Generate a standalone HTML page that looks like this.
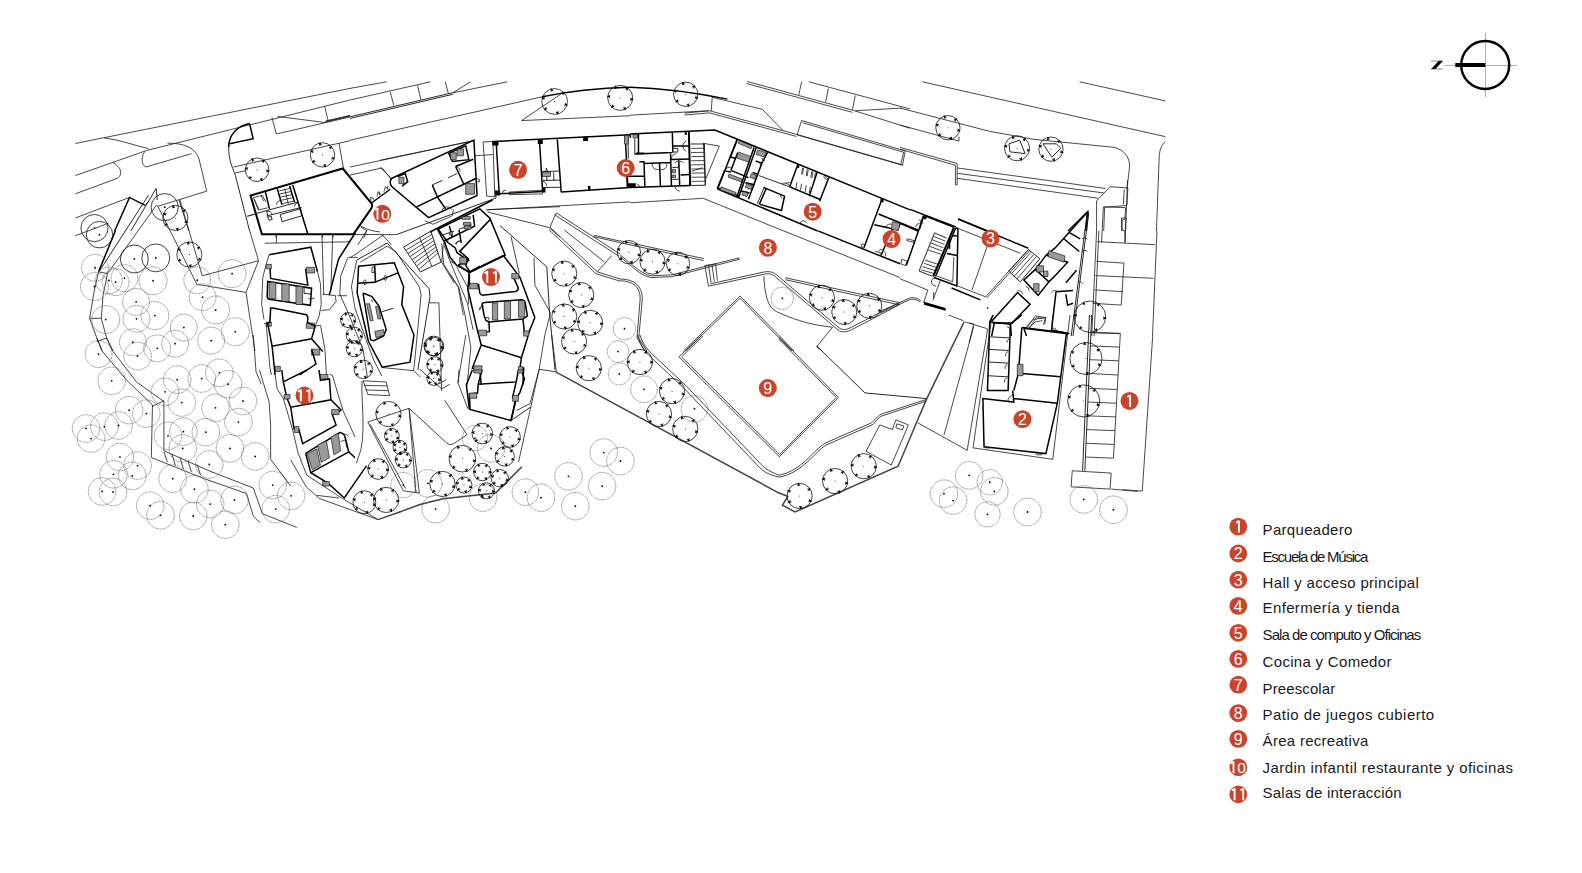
<!DOCTYPE html>
<html><head><meta charset="utf-8"><style>
html,body{margin:0;padding:0;background:#fff;width:1582px;height:873px;overflow:hidden}
svg{position:absolute;left:0;top:0}
svg *{vector-effect:non-scaling-stroke}
text{font-family:"Liberation Sans",sans-serif}
.t{fill:none;stroke:#1a1a1a;stroke-width:.8}
.m{fill:none;stroke:#111;stroke-width:.9}
.k{fill:none;stroke:#000;stroke-width:1.5}
.kk{fill:none;stroke:#000;stroke-width:2}
.d{fill:none;stroke:#555;stroke-width:.7;stroke-dasharray:.9 .5}
.tr{fill:none;stroke:#111;stroke-width:.8}
.tk{fill:none;stroke:#000;stroke-width:.9}
.f{fill:#000;stroke:none}
.h{fill:#999;stroke:#000;stroke-width:.6}
.g{fill:none;stroke:#999;stroke-width:1}
.g2{fill:none;stroke:#444;stroke-width:1.5}
</style></head><body>
<svg width="1582" height="873" viewBox="0 0 1582 873">

<g transform="translate(70.0 75.0) scale(0.178699)">
<path class="t" d="M30,383 L1567,75"/>
<path class="t" d="M30,563 L430,422 L1567,140"/>
<path class="t" d="M190,352 C280,362 360,395 440,412"/>
<path class="t" d="M240,490 C285,515 300,555 265,578 L30,665"/>
<path class="t" d="M418,428 C400,455 395,500 425,515 L680,440"/>
<path class="t" d="M545,382 C650,380 705,415 722,470 L765,650 L490,735"/>
<path class="t" d="M30,800 L333,685"/>
<path class="k" d="M250,873 L333,685 L420,730"/>
<path class="m" d="M340,873 L482,635 L488,700"/>
<path class="t" d="M610,700 L665,873"/>
<path class="k" d="M1005,272 L1025,357 L893,385"/>
<path class="k" d="M1005,272 C935,285 888,335 888,405"/>
<path class="m" d="M888,405 C888,470 905,510 925,560 L1005,873"/>
<path class="t" d="M915,515 L1567,368"/>
<path class="t" d="M925,548 L985,535"/>
<path class="t" d="M990,790 L1030,780"/>
<path class="t" d="M1130,238 L1155,330 L1567,235"/>
<path class="t" d="M1160,232 L1430,266"/>
<path class="t" d="M1425,175 L1445,258"/>
<path class="m" d="M1430,262 L1567,230 M1430,258 L1567,226"/>
<path class="t" d="M1505,380 L1530,520"/>
<circle class="tr" cx="1047.0" cy="530.0" r="66.0"/><circle class="f" cx="1047.0" cy="530.0" r="2.80"/><path class="tk" d="M1025.6,482.0 L1018.8,466.6 M1031.2,479.5 L1020.2,469.7 L1020.0,484.5 M1077.9,487.5 L1087.8,473.9 M1082.9,491.1 L1085.8,476.6 L1072.9,483.9 M1099.3,535.5 L1116.0,537.2 M1098.6,541.6 L1112.6,536.9 L1099.9,529.4 M1068.4,578.0 L1075.2,593.4 M1062.8,580.5 L1073.8,590.3 L1074.0,575.5 M1012.5,569.7 L1001.5,582.3 M1007.9,565.6 L1003.7,579.8 L1017.2,573.7 M994.7,524.5 L978.0,522.8 M995.4,518.4 L981.4,523.1 L994.1,530.6 "/>
<circle class="tr" cx="1413.0" cy="447.0" r="68.0"/><circle class="f" cx="1413.0" cy="447.0" r="2.80"/><path class="tk" d="M1401.7,393.6 L1398.2,377.2 M1407.7,392.3 L1398.9,380.5 L1395.6,394.9 M1453.6,410.5 L1466.0,399.3 M1457.7,415.1 L1463.5,401.5 L1449.4,405.9 M1464.9,463.9 L1480.9,469.1 M1463.0,469.7 L1477.7,468.0 L1466.8,458.0 M1424.3,500.4 L1427.8,516.8 M1418.3,501.7 L1427.1,513.5 L1430.4,499.1 M1369.4,479.8 L1356.0,489.9 M1365.7,474.9 L1358.7,487.9 L1373.1,484.8 M1361.1,430.1 L1345.1,424.9 M1363.0,424.3 L1348.3,426.0 L1359.2,436.0 "/>
<circle class="tr" cx="590.0" cy="800.0" r="70.0"/><circle class="f" cx="590.0" cy="800.0" r="2.80"/><path class="tk" d="M580.2,744.3 L577.3,727.8 M586.2,743.2 L577.8,731.1 L574.1,745.4 M633.3,763.6 L646.2,752.8 M637.3,768.4 L643.6,755.0 L629.4,758.9 M643.2,819.3 L658.9,825.1 M641.1,825.1 L655.8,823.9 L645.3,813.6 M599.8,855.7 L602.7,872.2 M593.8,856.8 L602.2,868.9 L605.9,854.6 M543.7,832.4 L529.9,842.1 M540.1,827.4 L532.7,840.2 L547.2,837.5 M536.8,780.7 L521.1,774.9 M538.9,774.9 L524.2,776.1 L534.7,786.4 "/>
</g>
<g transform="translate(240.0 160.0) scale(0.089366)">
<path class="kk" d="M118,398 L1150,95 L1475,490 C1482,510 1472,540 1460,555 L1270,830 L245,830 Z"/>
<path class="m" d="M185,598 L655,468 M300,625 L690,530"/>
<path class="k" d="M285,360 L330,550 M418,325 L470,500 M555,290 L610,470 M590,280 L760,830"/>
<path class="t" d="M440,345 L560,318 M445,380 L570,353 M455,415 L580,388 M465,450 L590,423 M470,488 L600,462 M500,320 L540,492"/>
<path class="t" d="M150,420 L250,395 L290,470 M150,420 L205,560 L310,535 M160,440 L210,550 M235,400 L265,460"/>
<path class="m" d="M450,610 L680,545 L690,625 L470,690 Z M300,570 L312,640 L355,630 M310,640 L325,675 L360,665 L350,635"/>
<path class="t" d="M410,500 A45,45 0 0 1 455,455 M610,520 A40,40 0 0 1 650,480 M300,575 A50,50 0 0 1 360,610"/>
<path class="t" d="M85,630 L185,600 M400,840 L405,873 M920,840 L925,873 M1040,840 L1040,873 M1350,740 C1420,780 1500,800 1567,805 M1420,790 L1385,873"/>
</g>
<g transform="translate(350.0 75.0) scale(0.178699)">
<path class="t" d="M0,75 L205,38"/>
<path class="t" d="M0,140 L450,38"/>
<path class="t" d="M225,95 L245,170 M378,58 L397,138 M533,38 L550,102 M575,100 L675,38"/>
<path class="m" d="M0,234 L575,99 M0,243 L575,108"/>
<path class="t" d="M575,100 L880,38"/>
<path class="t" d="M0,365 L1075,122"/>
<path class="k" d="M1075,122 C1200,95 1380,72 1567,68"/>
<path class="t" d="M960,255 L1190,100 M960,255 L1567,228"/>
<path class="t" d="M0,515 L690,368"/>
<path class="t" d="M0,560 L180,520 L232,585"/>
<path class="t" d="M60,850 L95,873"/>
<path class="t" d="M745,375 L800,372 L810,680 L765,678 Z M700,452 L800,445"/>
<path class="k" d="M800,372 L1567,335"/>
<path class="k" d="M818,375 L835,665 L1080,652 M1180,655 L1567,630"/>
<path class="t" d="M890,655 L1075,645 L1077,665 L890,670 Z"/>
<path class="k" d="M1060,362 L1078,655 M1160,360 L1182,655"/>
<path class="m" d="M1075,540 L1175,538 M1080,590 L1175,588 M1100,545 L1102,590 M1140,545 L1141,590 M1078,630 L1175,628"/>
<path class="k" d="M1540,340 L1555,630"/>
<path class="t" d="M760,755 L1567,710"/>
<circle class="tr" cx="1145.0" cy="148.0" r="72.0"/><circle class="f" cx="1145.0" cy="148.0" r="2.80"/><path class="tk" d="M1130.8,91.2 L1126.8,74.9 M1136.8,89.7 L1127.6,78.1 L1124.9,92.7 M1187.1,107.3 L1199.2,95.7 M1191.4,111.7 L1196.8,98.0 L1182.9,102.9 M1201.3,164.1 L1217.4,168.8 M1199.6,170.1 L1214.2,167.8 L1203.0,158.2 M1159.2,204.8 L1163.2,221.1 M1153.2,206.3 L1162.4,217.9 L1165.1,203.3 M1099.5,184.9 L1086.4,195.4 M1095.6,180.1 L1089.0,193.3 L1103.4,189.6 M1088.7,131.9 L1072.6,127.2 M1090.4,125.9 L1075.8,128.2 L1087.0,137.8 "/>
<circle class="tr" cx="1512.0" cy="128.0" r="70.0"/><circle class="f" cx="1512.0" cy="128.0" r="2.80"/><path class="tk" d="M1489.9,75.9 L1483.3,60.5 M1495.6,73.5 L1484.6,63.6 L1484.2,78.3 M1546.0,82.8 L1556.1,69.4 M1551.0,86.5 L1554.1,72.1 L1541.1,79.1 M1568.1,134.9 L1584.8,136.9 M1567.4,141.0 L1581.5,136.5 L1568.9,128.8 M1534.1,180.1 L1540.7,195.5 M1528.4,182.5 L1539.4,192.4 L1539.8,177.7 M1474.1,170.0 L1462.9,182.5 M1469.6,165.9 L1465.2,180.0 L1478.7,174.2 M1455.9,121.1 L1439.2,119.1 M1456.6,115.0 L1442.5,119.5 L1455.1,127.2 "/>
</g>
<g transform="translate(0.0 0.0) scale(1.000000)">
<path class="f" d="M492.3,141.2 h6.2 v4.2 h-6.2z M537.8,139.4 h5 v4.6 h-5z M583.1,136.5 h4.9 v4.6 h-4.9z M588,186 h2.4 v4.4 h-2.4z M542.1,188 h3.3 v4.5 h-3.3z M495.2,190.4 h4.9 v5.1 h-4.9z"/>
<path class="h" d="M542.5,172 h8 v4.5 h-8z M546,168.5 h1 v3 h-1z"/>
<path class="t" d="M542.4,181.5 A4,4 0 0 1 546.5,186 M502,194 A4,4 0 0 1 506,190"/>
</g>
<g transform="translate(380.0 130.0) scale(0.126056)">
<path class="k" d="M90,385 L745,80 L770,520 L385,695 L95,450 Q70,420 90,385 Z"/>
<path class="k" d="M290,610 L760,385 M600,290 L740,232 M600,290 L665,430 M415,435 L455,530 L520,625 M455,530 L480,520"/>
<path class="m" d="M415,435 L495,400 M540,380 L610,345"/>
<path class="k" d="M545,185 L680,125 L705,235 L575,250 Z M140,370 L200,345 L220,410 L175,445"/>
<path class="h" d="M560,180 h45 v55 h-45z M612,150 h50 v55 h-50z M150,375 h40 v50 h-40z M680,425 h70 v85 h-70z"/>
<path class="t" d="M600,290 A40,40 0 0 1 635,330 M490,640 A45,45 0 0 1 570,630 M770,385 Q800,390 790,410 L770,410"/>
<path class="t" d="M355,720 L420,748 L575,680 L582,630"/>
<path class="m" d="M130,830 L920,540 L915,480"/>
<path class="t" d="M0,240 L745,85 M0,295 L90,385"/>
<path class="t" d="M0,830 L130,830"/>
</g>
<g transform="translate(340.0 185.0) scale(0.068729)">
<path class="k" d="M460,262 L730,62"/>
<path class="t" d="M450,245 L445,180 Q480,170 500,228 M540,165 L550,100 Q585,105 590,140 M575,150 L570,95 M640,95 L660,25 Q695,30 700,70 M680,60 L700,15"/>
<path class="t" d="M200,720 L600,720 M390,660 L260,873 M620,730 L750,873"/>
</g>
<g transform="translate(630.0 75.0) scale(0.178699)">
<path class="k" d="M0,68 C150,72 350,95 545,135"/>
<path class="t" d="M460,125 L740,192 L855,310 M460,125 L455,200"/>
<path class="t" d="M0,225 L440,200"/>
<path class="t" d="M305,213 L445,200 L935,333 L1525,503 M305,224 L445,212 L932,344"/>
<path class="t" d="M655,36 L1250,198 L1567,298 M650,47 L1245,209"/>
<path class="t" d="M1000,38 L1567,190"/>
<path class="t" d="M960,38 L945,110 M1110,75 L1095,150 M1260,115 L1245,195 M1260,200 L1520,185"/>
<path class="t" d="M960,255 L1540,425 L1525,505 L935,335 Z M966,267 L1531,432 L1516,497"/>
<path class="k" d="M0,330 L475,308 L1567,755"/>
<path class="k" d="M0,630 L340,618 M490,638 L1050,873 M490,638 L600,358"/>
<path class="t" d="M410,382 L500,398 L425,580"/>
<path class="t" d="M950,830 Q970,800 990,830 M850,610 Q870,595 895,620 M1085,560 Q1100,575 1110,580"/>
<path class="t" d="M0,715 L410,690 L860,873"/>
<path class="f" d="M935,500 h12 v20 h-12z"/>
<circle class="tr" cx="312.0" cy="108.0" r="68.0"/><circle class="f" cx="312.0" cy="108.0" r="2.80"/><path class="tk" d="M299.7,54.8 L295.9,38.5 M305.7,53.4 L296.7,41.7 L293.7,56.2 M351.9,70.8 L364.2,59.3 M356.1,75.3 L361.7,61.6 L347.7,66.3 M364.2,124.0 L380.2,128.9 M362.4,129.8 L377.0,127.9 L366.0,118.1 M324.3,161.2 L328.1,177.5 M318.3,162.6 L327.3,174.3 L330.3,159.8 M269.0,141.6 L255.8,151.9 M265.2,136.7 L258.4,149.9 L272.8,146.4 M259.8,92.0 L243.8,87.1 M261.6,86.2 L247.0,88.1 L258.0,97.9 "/>
</g>
<g transform="translate(700.0 125.0) scale(0.103093)">
<path class="k" d="M365,135 L295,310 L350,325 M545,220 L375,700 M525,215 L358,695 M660,255 L600,370 L470,720"/>
<path class="k" d="M240,440 L170,610 L380,690 M300,440 L470,510 M240,445 L300,455 M300,440 L365,270 M540,350 L600,370 M510,460 L560,480 M440,560 L530,580 M400,640 L480,660"/>
<path class="m" d="M570,490 L870,600"/>
<path class="k" d="M870,600 L950,380 M1135,460 L1060,690 M1250,510 L1160,740 M870,600 L1160,720"/>
<path class="k" d="M615,605 L820,690 L790,830 L580,770 M640,620 L575,770"/>
<path class="m" d="M620,612 L555,765"/>
<path class="h" d="M380,150 L505,205 L495,230 L372,178 Z M372,262 L490,305 L470,360 L355,320 Z M282,475 L410,525 L400,552 L272,505 Z M205,600 L350,655 L340,680 L195,630 Z M560,240 L640,268 L620,310 L545,285 Z M500,470 L545,488 L530,525 L485,508 Z M455,570 L510,590 L495,625 L440,605 Z M420,645 L470,662 L455,695 L405,678 Z"/>
<path class="t" d="M995,415 L985,480 M1040,430 L1030,495 M1085,448 L1075,512 M1120,460 L1110,520 M940,555 L930,620 M985,570 L975,635 M1030,585 L1020,650 M1070,600 L1060,660 M1005,415 L995,480 M1050,432 L1040,497 M1095,450 L1085,514"/>
<path class="t" d="M250,430 A45,45 0 0 1 300,410 M830,570 A40,40 0 0 1 870,560 M1200,500 A40,40 0 0 0 1230,530 M780,680 A35,35 0 0 0 800,715 M580,360 A30,30 0 0 0 600,395 M600,320 A30,30 0 0 0 630,345 M870,600 A30,30 0 0 1 900,610"/>
<path class="f" d="M945,380 h15 v25 h-15z"/>
</g>
<g transform="translate(600.0 120.0) scale(0.091600)">
<path class="m" d="M305,170 L310,420"/>
<path class="h" d="M268,168 h40 v95 h-40z M360,160 h50 v35 h-50z"/>
<path class="k" d="M420,150 L420,370 M385,372 L790,355 M790,140 L795,355 M795,285 L970,285 M430,455 L480,455 L490,735 M480,475 L770,465 M650,475 L660,725 M770,370 L780,720 M780,430 L975,425 M860,440 L870,715 M290,615 L480,610 M880,600 L975,595"/>
<path class="m" d="M380,200 L380,380 M290,615 L295,745 M800,310 L850,310 L850,350 L800,350 M790,520 L860,515 M790,650 L860,645"/>
<path class="f" d="M300,690 h45 v45 h-45z M345,690 h45 v45 h-45z M925,130 h22 v35 h-22z M322,160 h18 v35 h-18z M395,355 h90 v20 h-90z M972,600 h16 v110 h-16z"/>
<path class="kk" d="M970,125 L985,715"/>
<path class="m" d="M990,262 L1140,262 L1150,712 L995,715 M1130,255 L1150,712"/>
<path class="t" d="M995,310 L1142,308 M995,355 L1143,353 M996,400 L1144,398 M996,445 L1144,443 M997,490 L1145,488 M997,535 L1146,533 M998,580 L1146,578 M998,625 L1147,623 M999,670 L1148,668 M1000,560 L1120,520"/>
<path class="t" d="M940,230 A60,60 0 0 0 940,340 M570,480 A55,55 0 0 0 640,540 M730,480 A55,55 0 0 1 660,540 M815,470 A40,40 0 0 1 860,450 M910,470 A40,40 0 0 0 870,450 M780,420 A50,50 0 0 1 830,370 M820,720 A50,50 0 0 0 870,775 M400,700 A30,30 0 0 1 430,735"/>
<path class="h" d="M790,540 h35 v35 h-35z M790,600 h35 v30 h-35z"/>
</g>
<g transform="translate(900.0 75.0) scale(0.178699)">
<path class="t" d="M0,185 L270,255 L500,315 L750,360 L1000,385 L1200,405 C1255,420 1285,460 1285,510 L1270,640"/>
<path class="t" d="M0,280 L330,370 L330,345"/>
<path class="t" d="M125,38 L1485,345 M1005,38 L1485,145"/>
<path class="t" d="M1485,375 C1460,390 1450,430 1450,470 L1435,873"/>
<path class="t" d="M0,405 L320,495 L320,615 L310,615 L310,505 L0,415"/>
<path class="t" d="M320,520 L1150,635 M320,550 L1140,660 M320,578 L1110,690"/>
<path class="t" d="M1100,873 L1100,705 L1175,625 L1275,632 L1270,730 L1145,740 L1140,873 M1255,640 L1250,725 M1240,800 L1265,800 L1260,873 M1240,800 L1240,873"/>
<path class="k" d="M56,752 L313,851 M325,805 L490,873 M940,873 L1050,765 L1040,873"/>
<path class="t" d="M1055,765 L1045,873"/>
<path class="k" d="M0,830 L100,873 M130,790 L110,860"/>
<circle class="tr" cx="268.0" cy="295.0" r="68.0"/><circle class="f" cx="268.0" cy="295.0" r="2.80"/><path class="tk" d="M253.0,242.5 L248.3,226.4 M258.9,240.8 L249.3,229.6 L247.0,244.2 M305.9,255.7 L317.6,243.7 M310.3,260.0 L315.2,246.1 L301.5,251.5 M320.9,308.2 L337.2,312.3 M319.5,314.2 L334.0,311.5 L322.4,302.2 M283.0,347.5 L287.7,363.6 M277.1,349.2 L286.7,360.4 L289.0,345.8 M226.8,330.8 L214.1,341.8 M222.8,326.2 L216.7,339.6 L230.9,335.4 M215.1,281.8 L198.8,277.7 M216.5,275.8 L202.0,278.5 L213.6,287.8 "/>
<circle class="tr" cx="655.0" cy="410.0" r="70.0"/><circle class="f" cx="655.0" cy="410.0" r="2.80"/><path class="tk" d="M635.7,356.8 L629.9,341.1 M641.4,354.7 L631.1,344.2 L629.9,358.9 M691.4,366.7 L702.2,353.8 M696.1,370.6 L700.0,356.4 L686.6,362.7 M710.7,419.8 L727.2,422.7 M709.6,425.9 L723.9,422.2 L711.8,413.8 M674.3,463.2 L680.1,478.9 M668.6,465.3 L678.9,475.8 L680.1,461.1 M615.0,450.0 L603.1,461.9 M610.6,445.6 L605.5,459.5 L619.4,454.4 M599.3,400.2 L582.8,397.3 M600.4,394.1 L586.1,397.8 L598.2,406.2 "/>
<circle class="tr" cx="845.0" cy="415.0" r="68.0"/><circle class="f" cx="845.0" cy="415.0" r="2.80"/><path class="tk" d="M830.9,362.3 L826.5,346.1 M836.8,360.7 L827.4,349.3 L824.9,363.9 M883.6,376.4 L895.5,364.5 M887.9,380.8 L893.1,366.9 L879.2,372.1 M897.7,429.1 L913.9,433.5 M896.1,435.1 L910.7,432.6 L899.3,423.2 M859.1,467.7 L863.5,483.9 M853.2,469.3 L862.6,480.7 L865.1,466.1 M803.2,450.1 L790.3,460.9 M799.2,445.4 L792.9,458.7 L807.2,454.8 M792.3,400.9 L776.1,396.5 M793.9,394.9 L779.3,397.4 L790.7,406.8 "/>
<path class="m" d="M610,385 L670,365 L700,440 L615,430 Z M800,385 L875,385 L900,410 L850,460 Z"/>
</g>
<g transform="translate(70.0 195.0) scale(0.178699)">
<path class="t" d="M30,228 L215,158"/>
<path class="k" d="M254,200 L160,430"/>
<path class="m" d="M440,0 L165,425"/>
<path class="t" d="M485,55 L210,440 M160,430 L210,440 M420,58 L440,35"/>
<path class="t" d="M160,430 L135,540 L110,690 L150,800 L180,873 M210,440 L185,560 L175,690 L205,800 L240,873 M110,690 L175,690 M150,820 L205,800"/>
<path class="t" d="M1006,201 L1055,368 L985,545 L1035,873 M1055,368 L740,452 L615,25 M710,500 L490,60 M710,500 L985,545"/>
<path class="t" d="M1090,270 L1567,262 M1155,225 L1155,270 M1410,225 L1420,560 M1470,225 L1460,540"/>
<circle class="tr" cx="137.0" cy="185.0" r="76.0"/><circle class="f" cx="137.0" cy="185.0" r="5.04"/>
<circle class="tr" cx="165.0" cy="222.0" r="74.0"/><circle class="f" cx="165.0" cy="222.0" r="5.04"/>
<circle class="tr" cx="360.0" cy="358.0" r="78.0"/><circle class="f" cx="360.0" cy="358.0" r="5.04"/>
<circle class="tr" cx="480.0" cy="352.0" r="78.0"/><circle class="f" cx="480.0" cy="352.0" r="5.04"/>
<circle class="tr" cx="530.0" cy="68.0" r="76.0"/><circle class="f" cx="530.0" cy="68.0" r="5.04"/>
<circle class="d" cx="140.0" cy="407.0" r="75.0"/><circle class="f" cx="140.0" cy="407.0" r="5.04"/>
<circle class="d" cx="137.0" cy="512.0" r="78.0"/><circle class="f" cx="137.0" cy="512.0" r="5.04"/>
<circle class="d" cx="218.0" cy="478.0" r="75.0"/><circle class="f" cx="218.0" cy="478.0" r="5.04"/>
<circle class="d" cx="255.0" cy="488.0" r="75.0"/><circle class="f" cx="255.0" cy="488.0" r="5.04"/>
<circle class="d" cx="305.0" cy="465.0" r="75.0"/><circle class="f" cx="305.0" cy="465.0" r="5.04"/>
<circle class="d" cx="465.0" cy="480.0" r="78.0"/><circle class="f" cx="465.0" cy="480.0" r="5.04"/>
<circle class="d" cx="370.0" cy="598.0" r="75.0"/><circle class="f" cx="370.0" cy="598.0" r="5.04"/>
<circle class="d" cx="372.0" cy="693.0" r="75.0"/><circle class="f" cx="372.0" cy="693.0" r="5.04"/>
<circle class="d" cx="475.0" cy="675.0" r="78.0"/><circle class="f" cx="475.0" cy="675.0" r="5.04"/>
<circle class="d" cx="200.0" cy="697.0" r="78.0"/><circle class="f" cx="200.0" cy="697.0" r="5.04"/>
<circle class="d" cx="352.0" cy="824.0" r="75.0"/><circle class="f" cx="352.0" cy="824.0" r="5.04"/>
<circle class="d" cx="488.0" cy="858.0" r="75.0"/><circle class="f" cx="488.0" cy="858.0" r="5.04"/>
<circle class="d" cx="588.0" cy="832.0" r="75.0"/><circle class="f" cx="588.0" cy="832.0" r="5.04"/>
<circle class="d" cx="637.0" cy="742.0" r="75.0"/><circle class="f" cx="637.0" cy="742.0" r="5.04"/>
<circle class="d" cx="712.0" cy="477.0" r="75.0"/><circle class="f" cx="712.0" cy="477.0" r="5.04"/>
<circle class="d" cx="742.0" cy="572.0" r="75.0"/><circle class="f" cx="742.0" cy="572.0" r="5.04"/>
<circle class="d" cx="815.0" cy="643.0" r="78.0"/><circle class="f" cx="815.0" cy="643.0" r="5.04"/>
<circle class="d" cx="907.0" cy="440.0" r="78.0"/><circle class="f" cx="907.0" cy="440.0" r="5.04"/>
<circle class="d" cx="925.0" cy="765.0" r="78.0"/><circle class="f" cx="925.0" cy="765.0" r="5.04"/>
<circle class="d" cx="790.0" cy="815.0" r="75.0"/><circle class="f" cx="790.0" cy="815.0" r="5.04"/>
<circle class="d" cx="160.0" cy="890.0" r="75.0"/><circle class="f" cx="160.0" cy="890.0" r="5.04"/>
<circle class="tr" cx="668.0" cy="333.0" r="70.0"/><circle class="f" cx="668.0" cy="333.0" r="2.80"/><path class="tk" d="M663.1,276.6 L661.6,259.9 M669.2,276.1 L661.9,263.3 L656.9,277.2 M714.3,300.6 L728.1,290.9 M717.9,305.6 L725.3,292.8 L710.8,295.5 M719.3,356.9 L734.5,364.0 M716.7,362.5 L731.4,362.6 L721.9,351.3 M672.9,389.4 L674.4,406.1 M666.8,389.9 L674.1,402.7 L679.1,388.8 M619.0,361.3 L604.5,369.7 M615.9,356.0 L607.4,368.0 L622.1,366.6 M616.7,309.1 L601.5,302.0 M619.3,303.5 L604.6,303.4 L614.1,314.7 "/>
</g>
<g transform="translate(255.0 245.0) scale(0.148810)">
<path class="k" d="M95,65 L375,15 L420,180 M100,140 L105,225 L355,270 L340,160"/>
<path class="t" d="M95,65 L75,130 L52,220 L45,400 L60,500 M420,180 L440,260 L445,400 L430,480 L405,545"/>
<path class="k" d="M85,245 L380,290 L372,405 L95,365 Q80,360 82,340 Z"/>
<path class="h" d="M95,250 h45 v110 h-45z M180,262 h50 v118 h-50z M275,278 h45 v122 h-45z"/>
<path class="m" d="M330,285 L380,290 L378,330 L330,325 Z M360,360 Q390,365 400,355"/>
<path class="h" d="M75,130 h35 v30 h-35z M345,150 h55 v38 h-55z M75,518 h35 v28 h-35z M345,525 h55 v35 h-55z M380,700 h55 v40 h-55z M135,815 h35 v35 h-35z"/>
<path class="k" d="M105,430 Q100,420 120,424 L345,468 Q360,478 352,520 L405,545 M105,430 L100,520 L85,525 L115,680 L380,630 L405,545"/>
<path class="k" d="M380,630 L455,715 M115,680 L135,873 M380,700 L410,800 L300,873"/>
<path class="t" d="M60,530 L75,525 L100,820 L110,873 M405,545 L440,540 L470,700 L480,873"/>
<path class="t" d="M455,330 L540,340 L545,380 L500,435 L445,440"/>
</g>
<g transform="translate(320.0 225.0) scale(0.103093)">
<path class="k" d="M343,75 L180,330 L90,680"/>
<path class="m" d="M810,215 L1075,60 L1175,360 L975,455 Z"/>
<path class="t" d="M832,245 L1085,92 M854,275 L1095,122 M876,305 L1105,152 M898,335 L1115,182 M920,365 L1125,212 M942,395 L1135,242 M964,425 L1145,272 M965,120 L1085,400"/>
<path class="t" d="M1180,180 L1200,380 L1340,600 L1390,873 M1195,200 L1180,360 L1300,560"/>
<path class="k" d="M1140,30 L1240,170 L1310,220 L1330,270 L1440,345 L1340,390 M1340,390 L1445,460 L1552,400"/>
<path class="m" d="M1150,30 L1230,0 M1180,100 L1300,60 M1310,180 L1360,150 M1350,40 L1470,0"/>
</g>
<g transform="translate(430.0 200.0) scale(0.148920)">
<path class="k" d="M200,345 L405,130 L505,370 L270,485 L240,440 L258,395 Z"/>
<path class="k" d="M50,195 L100,290 L135,385 L180,440 L270,485 M0,215 L420,0"/>
<path class="k" d="M55,195 L335,60 L405,125 M95,275 L300,175 M130,175 L150,250 M195,200 L210,290 M290,100 L300,180"/>
<path class="h" d="M205,395 h30 v40 h-30z M215,110 h55 v20 h-55z M225,150 h50 v20 h-50z M230,175 h45 v20 h-45z M130,215 h20 v20 h-20z"/>
<path class="t" d="M385,65 L873,45 M385,80 L800,185 L873,250"/>
<path class="t" d="M90,290 L130,400 L250,690 L290,873 M180,450 L255,590 L260,700"/>
<path class="t" d="M330,740 A30,30 0 0 1 360,710 M100,300 A25,25 0 0 1 125,275 M175,300 A25,25 0 0 1 200,275"/>
</g>
<g transform="translate(340.0 195.0) scale(0.178699)">
<path class="t" d="M1210,100 L1567,330 M1200,110 L1560,342 M1175,180 L1210,100 M1175,180 L1440,430 L1567,470 M1170,195 L1432,440 L1567,482 M1420,225 L1567,258 M1418,233 L1567,266 M1440,430 L1520,340"/>
<circle class="tr" cx="1255.0" cy="440.0" r="70.0"/><circle class="f" cx="1255.0" cy="440.0" r="2.80"/><path class="tk" d="M1245.2,384.3 L1242.3,367.8 M1251.2,383.2 L1242.8,371.1 L1239.1,385.4 M1298.3,403.6 L1311.2,392.8 M1302.3,408.4 L1308.6,395.0 L1294.4,398.9 M1308.2,459.3 L1323.9,465.1 M1306.1,465.1 L1320.8,463.9 L1310.3,453.6 M1264.8,495.7 L1267.7,512.2 M1258.8,496.8 L1267.2,508.9 L1270.9,494.6 M1208.7,472.4 L1194.9,482.1 M1205.1,467.4 L1197.7,480.2 L1212.2,477.5 M1201.8,420.7 L1186.1,414.9 M1203.9,414.9 L1189.2,416.1 L1199.7,426.4 "/>
<circle class="tr" cx="1350.0" cy="560.0" r="70.0"/><circle class="f" cx="1350.0" cy="560.0" r="2.80"/><path class="tk" d="M1340.2,504.3 L1337.3,487.8 M1346.2,503.2 L1337.8,491.1 L1334.1,505.4 M1393.3,523.6 L1406.2,512.8 M1397.3,528.4 L1403.6,515.0 L1389.4,518.9 M1403.2,579.3 L1418.9,585.1 M1401.1,585.1 L1415.8,583.9 L1405.3,573.6 M1359.8,615.7 L1362.7,632.2 M1353.8,616.8 L1362.2,628.9 L1365.9,614.6 M1303.7,592.4 L1289.9,602.1 M1300.1,587.4 L1292.7,600.2 L1307.2,597.5 M1296.8,540.7 L1281.1,534.9 M1298.9,534.9 L1284.2,536.1 L1294.7,546.4 "/>
<circle class="tr" cx="1255.0" cy="680.0" r="70.0"/><circle class="f" cx="1255.0" cy="680.0" r="2.80"/><path class="tk" d="M1250.1,623.6 L1248.6,606.9 M1256.2,623.1 L1248.9,610.3 L1243.9,624.2 M1301.3,647.6 L1315.1,637.9 M1304.9,652.6 L1312.3,639.8 L1297.8,642.5 M1306.3,703.9 L1321.5,711.0 M1303.7,709.5 L1318.4,709.6 L1308.9,698.3 M1259.9,736.4 L1261.4,753.1 M1253.8,736.9 L1261.1,749.7 L1266.1,735.8 M1206.0,708.3 L1191.5,716.7 M1202.9,703.0 L1194.4,715.0 L1209.1,713.6 M1203.7,656.1 L1188.5,649.0 M1206.3,650.5 L1191.6,650.4 L1201.1,661.7 "/>
<circle class="tr" cx="1400.0" cy="715.0" r="70.0"/><circle class="f" cx="1400.0" cy="715.0" r="2.80"/><path class="tk" d="M1376.1,663.7 L1369.0,648.5 M1381.7,661.1 L1370.4,651.6 L1370.5,666.3 M1432.4,668.7 L1442.1,654.9 M1437.5,672.2 L1440.2,657.7 L1427.4,665.1 M1456.4,719.9 L1473.1,721.4 M1455.8,726.1 L1469.7,721.1 L1456.9,713.8 M1423.9,766.3 L1431.0,781.5 M1418.3,768.9 L1429.6,778.4 L1429.5,763.7 M1363.6,758.3 L1352.8,771.2 M1358.9,754.4 L1355.0,768.6 L1368.4,762.3 M1343.6,710.1 L1326.9,708.6 M1344.2,703.9 L1330.3,708.9 L1343.1,716.2 "/>
<circle class="tr" cx="1310.0" cy="820.0" r="70.0"/><circle class="f" cx="1310.0" cy="820.0" r="2.80"/><path class="tk" d="M1300.2,764.3 L1297.3,747.8 M1306.2,763.2 L1297.8,751.1 L1294.1,765.4 M1353.3,783.6 L1366.2,772.8 M1357.3,788.4 L1363.6,775.0 L1349.4,778.9 M1363.2,839.3 L1378.9,845.1 M1361.1,845.1 L1375.8,843.9 L1365.3,833.6 M1319.8,875.7 L1322.7,892.2 M1313.8,876.8 L1322.2,888.9 L1325.9,874.6 M1263.7,852.4 L1249.9,862.1 M1260.1,847.4 L1252.7,860.2 L1267.2,857.5 M1256.8,800.7 L1241.1,794.9 M1258.9,794.9 L1244.2,796.1 L1254.7,806.4 "/>
<circle class="tr" cx="45.0" cy="700.0" r="42.0"/><circle class="f" cx="45.0" cy="700.0" r="2.80"/><path class="tk" d="M35.2,673.2 L29.5,657.4 M41.0,671.0 L30.6,660.5 L29.4,675.3 M63.4,678.1 L74.2,665.3 M68.1,682.1 L72.0,667.8 L58.6,674.2 M73.1,705.0 L89.7,707.9 M72.1,711.0 L86.4,707.3 L74.2,698.9 M54.8,726.8 L60.5,742.6 M49.0,729.0 L59.4,739.5 L60.6,724.7 M24.8,720.2 L12.9,732.1 M20.4,715.8 L15.3,729.7 L29.2,724.6 M16.9,695.0 L0.3,692.1 M17.9,689.0 L3.6,692.7 L15.8,701.1 "/>
<circle class="tr" cx="80.0" cy="785.0" r="45.0"/><circle class="f" cx="80.0" cy="785.0" r="2.80"/><path class="tk" d="M69.2,755.3 L63.5,739.6 M75.0,753.2 L64.6,742.7 L63.4,757.4 M100.3,760.8 L111.1,748.0 M105.0,764.8 L108.9,750.5 L95.6,756.9 M111.1,790.5 L127.6,793.4 M110.0,796.5 L124.3,792.8 L112.2,784.4 M90.8,814.7 L96.5,830.4 M85.0,816.8 L95.4,827.3 L96.6,812.6 M57.7,807.3 L45.8,819.2 M53.3,803.0 L48.2,816.8 L62.0,811.7 M48.9,779.5 L32.4,776.6 M50.0,773.5 L35.7,777.2 L47.8,785.6 "/>
<circle class="tr" cx="80.0" cy="860.0" r="45.0"/><circle class="f" cx="80.0" cy="860.0" r="2.80"/><path class="tk" d="M69.2,830.3 L63.5,814.6 M75.0,828.2 L64.6,817.7 L63.4,832.4 M100.3,835.8 L111.1,823.0 M105.0,839.8 L108.9,825.5 L95.6,831.9 M111.1,865.5 L127.6,868.4 M110.0,871.5 L124.3,867.8 L112.2,859.4 M90.8,889.7 L96.5,905.4 M85.0,891.8 L95.4,902.3 L96.6,887.6 M57.7,882.3 L45.8,894.2 M53.3,878.0 L48.2,891.8 L62.0,886.7 M48.9,854.5 L32.4,851.6 M50.0,848.5 L35.7,852.2 L47.8,860.6 "/>
<circle class="tr" cx="525.0" cy="845.0" r="55.0"/><circle class="f" cx="525.0" cy="845.0" r="2.80"/><path class="tk" d="M514.2,804.8 L509.9,788.6 M520.2,803.3 L510.8,791.9 L508.3,806.4 M554.4,815.6 L566.3,803.7 M558.7,820.0 L563.9,806.1 L550.0,811.3 M565.2,855.8 L581.4,860.1 M563.6,861.7 L578.1,859.2 L566.7,849.8 M535.8,885.2 L540.1,901.4 M529.8,886.7 L539.2,898.1 L541.7,883.6 M493.2,871.7 L480.3,882.5 M489.2,867.0 L482.9,880.4 L497.1,876.4 M484.8,834.2 L468.6,829.9 M486.4,828.3 L471.9,830.8 L483.3,840.2 "/>
</g>
<g transform="translate(450.0 255.0) scale(0.148810)">
<path class="k" d="M130,115 L360,5 M130,115 L130,200 L192,200 L200,255 Q205,270 220,270 L440,245 Q460,240 458,220 L420,135 M360,5 L470,150 L570,420 L530,520 L520,560 L480,690 L470,760 L495,760 L490,873"/>
<path class="m" d="M140,108 L360,0"/>
<path class="k" d="M130,115 L120,230 L185,510 L210,605 L150,760 L200,770 L210,873 M210,605 L480,690"/>
<path class="k" d="M215,330 Q220,320 235,320 L480,300 Q500,300 505,320 L520,410 L490,430 L262,450 L242,440 L230,410 Z"/>
<path class="k" d="M262,450 L265,515 L195,520 M490,430 L500,520 L530,520"/>
<path class="h" d="M285,322 h35 v115 h-35z M365,312 h42 v118 h-42z M460,306 h42 v112 h-42z"/>
<path class="t" d="M200,370 A25,25 0 0 1 225,345 M230,420 L260,420 L262,440"/>
<path class="h" d="M65,15 h45 v42 h-45z M132,190 h55 v38 h-55z M415,125 h48 v35 h-48z M192,505 h55 v38 h-55z M495,510 h35 v35 h-35z M160,745 h55 v38 h-55z M460,750 h30 v35 h-30z"/>
<path class="t" d="M0,130 L60,220 L100,400 L140,620 L115,873 M0,40 L130,120"/>
</g>
<g transform="translate(0.0 0.0) scale(1.000000)">
<path class="m" d="M500,225.6 L546.8,266.9 L549.5,312.8 L555,370"/>
<path class="t" d="M534,257.7 L534.9,285.2 L550.5,312.8 L544.9,335 M511,236.6 L519.3,273.3 M564.3,230 L604.5,262"/>
</g>
<g transform="translate(620.0 195.0) scale(0.178699)">
<path class="t" d="M916,201 L1567,462"/>
<path class="k" d="M1108,201 L1567,385"/>
<path class="t" d="M0,335 C60,380 120,445 175,452 L290,447 L665,352 M0,345 C55,388 115,455 175,462 L290,457 L667,360 M665,352 L667,360"/>
<path class="t" d="M0,256 L470,356 M0,267 L468,367"/>
<path class="t" d="M475,395 L495,510 M495,390 L510,490 M515,390 L528,485 M535,385 L545,480 M475,395 L535,385"/>
<path class="t" d="M495,510 L800,445 C830,437 852,440 872,460 L1220,755 C1242,772 1268,768 1300,752 L1567,612 M505,497 L800,432 C832,425 860,430 880,450 L1225,742 C1245,758 1268,755 1295,740 L1567,600"/>
<path class="t" d="M925,463 L1567,603 M925,474 L1560,614"/>
<path class="t" d="M805,455 C810,540 820,625 875,652 C955,690 1050,722 1150,735 L1190,740 L1100,850 L1130,873"/>
<path class="t" d="M355,873 L672,565 L975,873 M368,873 L672,578 L962,873"/>
<path class="t" d="M0,470 C80,470 125,510 125,580 L105,800 L150,873 M0,480 C75,480 113,518 113,580 L95,800 L138,873"/>
<circle class="tr" cx="50.0" cy="320.0" r="65.0"/><circle class="f" cx="50.0" cy="320.0" r="2.80"/><path class="tk" d="M36.7,270.2 L32.3,254.0 M42.6,268.6 L33.2,257.2 L30.7,271.8 M86.5,283.5 L98.3,271.7 M90.8,287.9 L96.0,274.0 L82.1,279.2 M99.8,333.3 L116.0,337.7 M98.2,339.3 L112.8,336.8 L101.4,327.4 M63.3,369.8 L67.7,386.0 M57.4,371.4 L66.8,382.8 L69.3,368.2 M10.5,353.1 L-2.4,363.9 M6.5,348.4 L0.2,361.8 L14.5,357.9 M0.2,306.7 L-16.0,302.3 M1.8,300.7 L-12.8,303.2 L-1.4,312.6 "/>
<circle class="tr" cx="182.0" cy="373.0" r="70.0"/><circle class="f" cx="182.0" cy="373.0" r="2.80"/><path class="tk" d="M159.9,320.9 L153.3,305.5 M165.6,318.5 L154.6,308.6 L154.2,323.3 M216.0,327.8 L226.1,314.4 M221.0,331.5 L224.1,317.1 L211.1,324.1 M238.1,379.9 L254.8,381.9 M237.4,386.0 L251.5,381.5 L238.9,373.8 M204.1,425.1 L210.7,440.5 M198.4,427.5 L209.4,437.4 L209.8,422.7 M144.1,415.0 L132.9,427.5 M139.6,410.9 L135.2,425.0 L148.7,419.2 M125.9,366.1 L109.2,364.1 M126.6,360.0 L112.5,364.5 L125.1,372.2 "/>
<circle class="tr" cx="325.0" cy="385.0" r="65.0"/><circle class="f" cx="325.0" cy="385.0" r="2.80"/><path class="tk" d="M316.0,334.2 L313.1,317.7 M322.1,333.1 L313.7,321.0 L310.0,335.3 M364.5,351.9 L377.4,341.1 M368.5,356.6 L374.8,343.2 L360.5,347.1 M373.5,402.6 L389.2,408.4 M371.4,408.4 L386.1,407.2 L375.6,396.9 M334.0,435.8 L336.9,452.3 M327.9,436.9 L336.3,449.0 L340.0,434.7 M282.8,414.6 L269.0,424.2 M279.2,409.5 L271.8,422.3 L286.3,419.6 M276.5,367.4 L260.8,361.6 M278.6,361.6 L263.9,362.8 L274.4,373.1 "/>
<circle class="tr" cx="1130.0" cy="575.0" r="70.0"/><circle class="f" cx="1130.0" cy="575.0" r="2.80"/><path class="tk" d="M1115.4,520.4 L1111.0,504.1 M1121.3,518.8 L1111.9,507.4 L1109.4,522.0 M1170.0,535.0 L1181.9,523.1 M1174.4,539.4 L1179.5,525.5 L1165.6,530.6 M1184.6,589.6 L1200.9,594.0 M1183.0,595.6 L1197.6,593.1 L1186.2,583.7 M1144.6,629.6 L1149.0,645.9 M1138.7,631.2 L1148.1,642.6 L1150.6,628.0 M1086.7,611.4 L1073.8,622.2 M1082.7,606.6 L1076.4,620.0 L1090.6,616.1 M1075.4,560.4 L1059.1,556.0 M1077.0,554.4 L1062.4,556.9 L1073.8,566.3 "/>
<circle class="tr" cx="1255.0" cy="655.0" r="70.0"/><circle class="f" cx="1255.0" cy="655.0" r="2.80"/><path class="tk" d="M1250.1,598.6 L1248.6,581.9 M1256.2,598.1 L1248.9,585.3 L1243.9,599.2 M1301.3,622.6 L1315.1,612.9 M1304.9,627.6 L1312.3,614.8 L1297.8,617.5 M1306.3,678.9 L1321.5,686.0 M1303.7,684.5 L1318.4,684.6 L1308.9,673.3 M1259.9,711.4 L1261.4,728.1 M1253.8,711.9 L1261.1,724.7 L1266.1,710.8 M1206.0,683.3 L1191.5,691.7 M1202.9,678.0 L1194.4,690.0 L1209.1,688.6 M1203.7,631.1 L1188.5,624.0 M1206.3,625.5 L1191.6,625.4 L1201.1,636.7 "/>
<circle class="tr" cx="1395.0" cy="620.0" r="70.0"/><circle class="f" cx="1395.0" cy="620.0" r="2.80"/><path class="tk" d="M1390.1,563.6 L1388.6,546.9 M1396.2,563.1 L1388.9,550.3 L1383.9,564.2 M1441.3,587.6 L1455.1,577.9 M1444.9,592.6 L1452.3,579.8 L1437.8,582.5 M1446.3,643.9 L1461.5,651.0 M1443.7,649.5 L1458.4,649.6 L1448.9,638.3 M1399.9,676.4 L1401.4,693.1 M1393.8,676.9 L1401.1,689.7 L1406.1,675.8 M1346.0,648.3 L1331.5,656.7 M1342.9,643.0 L1334.4,655.0 L1349.1,653.6 M1343.7,596.1 L1328.5,589.0 M1346.3,590.5 L1331.6,590.4 L1341.1,601.7 "/>
<circle class="d" cx="908.0" cy="578.0" r="62.0"/><circle class="f" cx="908.0" cy="578.0" r="5.04"/>
<circle class="d" cx="25.0" cy="748.0" r="62.0"/><circle class="f" cx="25.0" cy="748.0" r="5.04"/>
<circle class="d" cx="-11.0" cy="876.0" r="60.0"/><circle class="f" cx="-11.0" cy="876.0" r="5.04"/>
</g>
<g transform="translate(830.0 180.0) scale(0.103093)">
<path class="k" d="M505,185 L330,655 M470,330 L865,490 M430,435 L605,472 M910,345 L740,830 M610,470 L495,730 M680,425 L650,495"/>
<path class="f" d="M490,180 h30 v35 h-30z M905,340 h30 v40 h-30z"/>
<path class="h" d="M605,405 L680,422 L662,490 L595,478 Z"/>
<path class="t" d="M695,770 L745,785 L735,830 L688,815 Z M310,620 L340,628 L332,660 L305,652 Z M750,570 L815,588 L810,605 L745,587 Z M435,690 L490,705 L485,720"/>
<path class="t" d="M540,460 A45,45 0 0 1 600,430 M830,455 A45,45 0 0 1 870,420 M870,380 A40,40 0 0 0 905,420 M470,690 A40,40 0 0 1 510,672 M520,690 A40,40 0 0 1 540,740"/>
</g>
<g transform="translate(880.0 180.0) scale(0.178699)">
<path class="k" d="M250,200 L415,265"/>
<path class="k" d="M437,218 L830,382"/>
<path class="t" d="M440,272 L785,410 M600,370 L515,615"/>
<path class="t" d="M590,655 L830,390 M598,660 L838,395"/>
<path class="m" d="M720,510 L830,390 L895,440 L785,570 Z"/>
<path class="t" d="M735,525 L845,405 M750,540 L860,418 M765,555 L875,428"/>
<path class="k" d="M625,790 L770,630 L840,695 L740,800 L630,800 M640,800 L625,873 M730,800 L735,873"/>
<path class="k" d="M805,560 L870,500 L945,570 L885,645 Z M870,500 L930,420 L1050,460 L985,530 L945,570"/>
<path class="k" d="M1160,180 L980,380 L930,420 M1030,330 L1115,400 M1060,295 L1120,330 M1040,575 L1100,505"/>
<path class="m" d="M1160,180 L1070,873 M1168,182 L1080,873"/>
<path class="h" d="M945,395 L1035,425 L1030,460 L940,430 Z M875,480 h40 v35 h-40z M915,510 h25 v30 h-25z M860,580 h30 v45 h-30z"/>
<path class="k" d="M985,625 L960,840 L1060,860 M985,625 L1080,618 M1040,640 L1050,700 L1080,690"/>
<path class="k" d="M805,830 L820,873 M805,830 L1050,860"/>
<path class="t" d="M820,830 L870,760 L925,770 L915,810 M830,835 L875,770 L915,775"/>
<path class="t" d="M1550,285 L1525,873 M1212,285 L1185,873 M1225,285 L1198,873"/>
<path class="t" d="M1250,150 L1375,155 L1370,220 L1355,225 L1355,280 L1370,285 L1370,350 M1250,150 L1240,350 M1385,0 L1372,350"/>
<path class="t" d="M1215,345 L1540,362 M1210,455 L1365,465 L1350,700 M1205,535 L1530,550 M1200,615 L1360,625 M1190,690 L1350,700 M1185,855 L1340,860"/>
<path class="t" d="M0,745 L170,668 C190,665 215,670 225,685 M0,735 L168,660 C192,655 218,662 230,680"/>
<path class="t" d="M770,620 A25,25 0 0 1 800,640 M960,630 A25,25 0 0 1 990,620 M1130,330 A20,20 0 0 1 1160,330 M1130,400 A20,20 0 0 1 1160,400 M1110,570 A20,20 0 0 1 1135,580 M960,830 A25,25 0 0 1 990,845 M710,820 A25,25 0 0 1 730,845 M815,595 A25,25 0 0 1 835,620"/>
<path class="f" d="M598,712 h8 v8 h-8z"/>
<circle class="tr" cx="1175.0" cy="765.0" r="88.0"/><circle class="f" cx="1175.0" cy="765.0" r="2.80"/><path class="tk" d="M1143.5,697.4 L1136.4,682.2 M1149.1,694.8 L1137.8,685.2 L1137.9,700.0 M1217.8,703.9 L1227.4,690.2 M1222.8,707.4 L1225.5,692.9 L1212.7,700.4 M1249.3,771.5 L1266.0,773.0 M1248.7,777.6 L1262.7,772.7 L1249.8,765.4 M1206.5,832.6 L1213.6,847.8 M1200.9,835.2 L1212.2,844.8 L1212.1,830.0 M1127.1,822.1 L1116.3,835.0 M1122.4,818.2 L1118.4,832.4 L1131.8,826.1 M1100.7,758.5 L1084.0,757.0 M1101.3,752.4 L1087.3,757.3 L1100.2,764.6 "/>
</g>
<g transform="translate(900.0 220.0) scale(0.103093)">
<path class="m" d="M335,125 L450,175 M335,125 L185,495 L310,545"/>
<path class="t" d="M322,158 L440,205 M309,190 L430,237 M296,222 L420,269 M283,254 L410,301 M245,390 L370,430 M232,420 L360,462 M219,452 L350,494 M206,484 L340,522 M270,290 L400,333"/>
<path class="kk" d="M522,75 L322,548"/>
<path class="k" d="M540,78 L345,548 M540,78 L562,82 L552,640 L330,558 M505,150 L552,156 M455,325 L552,345"/>
<path class="t" d="M522,360 L512,600 L360,545"/>
<path class="f" d="M470,170 h18 v110 h-18z"/>
<path class="t" d="M0,570 L270,680 L230,800 M390,590 L318,780 M560,640 L830,745"/>
<path class="k" d="M500,660 L780,775 M230,800 L440,860 M235,815 L445,873"/>
<path class="t" d="M340,560 A40,40 0 0 0 350,640 M330,700 Q315,740 330,760"/>
</g>
<g transform="translate(70.0 335.0) scale(0.229095)">
<path class="t" d="M117,13 L140,70 L250,200 L360,305 L355,535 L580,625 L770,692 L800,790 L830,820"/>
<path class="t" d="M160,13 L187,70 L290,205 L410,290 L410,505 L600,590 L800,668 L840,780 L990,840"/>
<path class="t" d="M410,510 L425,555 M445,520 L460,570 M480,535 L495,585 M515,550 L530,598 M555,565 L570,612"/>
<path class="t" d="M1280,200 L1380,205 L1395,265 L1300,260 Z M1285,220 L1385,222 M1290,240 L1390,243"/>
<path class="t" d="M1300,380 L1480,320 L1525,690 L1455,680 Z M1310,390 L1465,670 M1480,320 L1510,690"/>
<path class="t" d="M1275,200 C1270,280 1290,400 1270,500 L1250,560"/>
<circle class="tr" cx="1390.0" cy="345.0" r="55.0"/><circle class="f" cx="1390.0" cy="345.0" r="2.18"/><path class="tk" d="M1374.8,303.2 L1370.3,290.9 M1379.3,301.5 L1371.2,293.3 L1370.3,304.8 M1418.6,310.9 L1427.0,300.9 M1422.3,314.0 L1425.4,302.9 L1414.9,307.8 M1433.8,352.7 L1446.7,355.0 M1433.0,357.5 L1444.2,354.6 L1434.7,348.0 M1405.2,386.8 L1409.7,399.1 M1400.7,388.5 L1408.8,396.7 L1409.7,385.2 M1358.5,376.5 L1349.3,385.7 M1355.1,373.1 L1351.1,383.9 L1361.9,379.9 M1346.2,337.3 L1333.3,335.0 M1347.0,332.5 L1335.8,335.4 L1345.3,342.0 "/>
<circle class="tr" cx="1405.0" cy="440.0" r="32.0"/><circle class="f" cx="1405.0" cy="440.0" r="2.18"/><path class="tk" d="M1401.3,418.8 L1399.0,405.9 M1406.0,418.0 L1399.4,408.5 L1396.5,419.6 M1421.5,426.2 L1431.5,417.7 M1424.6,429.8 L1429.5,419.4 L1418.4,422.5 M1425.2,447.4 L1437.5,451.8 M1423.6,451.9 L1435.1,450.9 L1426.9,442.8 M1408.7,461.2 L1411.0,474.1 M1404.0,462.0 L1410.6,471.5 L1413.5,460.4 M1387.4,452.3 L1376.6,459.9 M1384.6,448.4 L1378.8,458.4 L1390.1,456.3 M1384.8,432.6 L1372.5,428.2 M1386.4,428.1 L1374.9,429.1 L1383.1,437.2 "/>
<circle class="tr" cx="1440.0" cy="490.0" r="30.0"/><circle class="f" cx="1440.0" cy="490.0" r="2.18"/><path class="tk" d="M1438.3,470.6 L1437.2,457.5 M1443.1,470.1 L1437.4,460.1 L1433.5,471.0 M1456.0,478.8 L1466.7,471.3 M1458.7,482.7 L1464.6,472.8 L1453.2,474.9 M1457.7,498.3 L1469.6,503.8 M1455.7,502.6 L1467.2,502.7 L1459.7,493.9 M1441.7,509.4 L1442.8,522.5 M1436.9,509.9 L1442.6,519.9 L1446.5,509.0 M1423.1,499.8 L1411.8,506.3 M1420.7,495.6 L1414.0,505.0 L1425.5,503.9 M1422.3,481.7 L1410.4,476.2 M1424.3,477.4 L1412.8,477.3 L1420.3,486.1 "/>
<circle class="tr" cx="1455.0" cy="545.0" r="35.0"/><circle class="f" cx="1455.0" cy="545.0" r="2.18"/><path class="tk" d="M1444.6,522.8 L1439.1,510.9 M1449.0,520.7 L1440.2,513.3 L1440.3,524.8 M1469.1,524.9 L1476.6,514.2 M1473.0,527.7 L1475.1,516.3 L1465.1,522.2 M1479.4,547.1 L1492.5,548.3 M1479.0,551.9 L1489.9,548.1 L1479.8,542.4 M1465.4,567.2 L1470.9,579.1 M1461.0,569.3 L1469.8,576.7 L1469.7,565.2 M1439.2,563.8 L1430.8,573.8 M1435.6,560.7 L1432.5,571.8 L1442.9,566.9 M1430.6,542.9 L1417.5,541.7 M1431.0,538.1 L1420.1,541.9 L1430.2,547.6 "/>
<circle class="tr" cx="1345.0" cy="585.0" r="45.0"/><circle class="f" cx="1345.0" cy="585.0" r="2.18"/><path class="tk" d="M1330.4,553.7 L1324.9,541.8 M1334.8,551.7 L1326.0,544.2 L1326.1,555.7 M1364.8,556.7 L1372.3,546.0 M1368.7,559.5 L1370.8,548.1 L1360.9,554.0 M1379.4,588.0 L1392.4,589.2 M1379.0,592.8 L1389.8,588.9 L1379.8,583.2 M1359.6,616.3 L1365.1,628.2 M1355.2,618.3 L1364.0,625.8 L1363.9,614.3 M1322.8,611.4 L1314.4,621.5 M1319.1,608.4 L1316.1,619.5 L1326.5,614.5 M1310.6,582.0 L1297.6,580.8 M1311.0,577.2 L1300.2,581.1 L1310.2,586.8 "/>
<circle class="tr" cx="1285.0" cy="730.0" r="50.0"/><circle class="f" cx="1285.0" cy="730.0" r="2.18"/><path class="tk" d="M1274.8,691.8 L1271.4,679.2 M1279.4,690.6 L1272.1,681.7 L1270.1,693.1 M1312.9,702.1 L1322.2,692.8 M1316.3,705.4 L1320.4,694.6 L1309.6,698.7 M1323.2,740.2 L1335.8,743.6 M1321.9,744.9 L1333.3,742.9 L1324.4,735.6 M1295.2,768.2 L1298.6,780.8 M1290.6,769.4 L1297.9,778.3 L1299.9,766.9 M1254.7,755.4 L1244.7,763.8 M1251.6,751.7 L1246.7,762.1 L1257.8,759.1 M1246.8,719.8 L1234.2,716.4 M1248.1,715.1 L1236.7,717.1 L1245.6,724.4 "/>
<circle class="tr" cx="1380.0" cy="720.0" r="55.0"/><circle class="f" cx="1380.0" cy="720.0" r="2.18"/><path class="tk" d="M1361.2,679.6 L1355.6,667.8 M1365.5,677.6 L1356.8,670.2 L1356.8,681.7 M1405.5,683.5 L1413.0,672.8 M1409.5,686.3 L1411.5,674.9 L1401.6,680.8 M1424.4,723.9 L1437.4,725.0 M1423.9,728.7 L1434.8,724.8 L1424.8,719.1 M1398.8,760.4 L1404.4,772.2 M1394.5,762.4 L1403.2,769.8 L1403.2,758.3 M1351.4,754.1 L1343.0,764.1 M1347.7,751.0 L1344.6,762.1 L1355.1,757.2 M1335.6,716.1 L1322.6,715.0 M1336.1,711.3 L1325.2,715.2 L1335.2,720.9 "/>
<circle class="tr" cx="1280.0" cy="150.0" r="40.0"/><circle class="f" cx="1280.0" cy="150.0" r="2.18"/><path class="tk" d="M1272.4,121.5 L1269.0,108.8 M1277.0,120.2 L1269.6,111.4 L1267.7,122.7 M1300.9,129.1 L1310.1,119.9 M1304.3,132.5 L1308.3,121.7 L1297.5,125.7 M1308.5,157.6 L1321.2,161.0 M1307.3,162.3 L1318.6,160.4 L1309.8,153.0 M1287.6,178.5 L1291.0,191.2 M1283.0,179.8 L1290.4,188.6 L1292.3,177.3 M1257.4,169.0 L1247.4,177.4 M1254.3,165.3 L1249.4,175.7 L1260.5,172.7 M1251.5,142.4 L1238.8,139.0 M1252.7,137.7 L1241.4,139.6 L1250.2,147.0 "/>
<circle class="d" cx="1455.0" cy="655.0" r="55.0"/><circle class="f" cx="1455.0" cy="655.0" r="3.93"/>
<circle class="d" cx="295.0" cy="92.0" r="60.0"/><circle class="f" cx="295.0" cy="92.0" r="3.93"/>
<circle class="d" cx="182.0" cy="200.0" r="60.0"/><circle class="f" cx="182.0" cy="200.0" r="3.93"/>
<circle class="d" cx="468.0" cy="195.0" r="60.0"/><circle class="f" cx="468.0" cy="195.0" r="3.93"/>
<circle class="d" cx="575.0" cy="190.0" r="60.0"/><circle class="f" cx="575.0" cy="190.0" r="3.93"/>
<circle class="d" cx="652.0" cy="165.0" r="60.0"/><circle class="f" cx="652.0" cy="165.0" r="3.93"/>
<circle class="d" cx="690.0" cy="215.0" r="60.0"/><circle class="f" cx="690.0" cy="215.0" r="3.93"/>
<circle class="d" cx="415.0" cy="248.0" r="60.0"/><circle class="f" cx="415.0" cy="248.0" r="3.93"/>
<circle class="d" cx="488.0" cy="295.0" r="60.0"/><circle class="f" cx="488.0" cy="295.0" r="3.93"/>
<circle class="d" cx="635.0" cy="318.0" r="60.0"/><circle class="f" cx="635.0" cy="318.0" r="3.93"/>
<circle class="d" cx="755.0" cy="288.0" r="60.0"/><circle class="f" cx="755.0" cy="288.0" r="3.93"/>
<circle class="d" cx="258.0" cy="328.0" r="60.0"/><circle class="f" cx="258.0" cy="328.0" r="3.93"/>
<circle class="d" cx="333.0" cy="343.0" r="60.0"/><circle class="f" cx="333.0" cy="343.0" r="3.93"/>
<circle class="d" cx="150.0" cy="400.0" r="60.0"/><circle class="f" cx="150.0" cy="400.0" r="3.93"/>
<circle class="d" cx="212.0" cy="395.0" r="60.0"/><circle class="f" cx="212.0" cy="395.0" r="3.93"/>
<circle class="d" cx="70.0" cy="408.0" r="60.0"/><circle class="f" cx="70.0" cy="408.0" r="3.93"/>
<circle class="d" cx="92.0" cy="452.0" r="60.0"/><circle class="f" cx="92.0" cy="452.0" r="3.93"/>
<circle class="d" cx="428.0" cy="440.0" r="60.0"/><circle class="f" cx="428.0" cy="440.0" r="3.93"/>
<circle class="d" cx="495.0" cy="422.0" r="60.0"/><circle class="f" cx="495.0" cy="422.0" r="3.93"/>
<circle class="d" cx="593.0" cy="424.0" r="60.0"/><circle class="f" cx="593.0" cy="424.0" r="3.93"/>
<circle class="d" cx="735.0" cy="380.0" r="60.0"/><circle class="f" cx="735.0" cy="380.0" r="3.93"/>
<circle class="d" cx="492.0" cy="495.0" r="60.0"/><circle class="f" cx="492.0" cy="495.0" r="3.93"/>
<circle class="d" cx="698.0" cy="495.0" r="60.0"/><circle class="f" cx="698.0" cy="495.0" r="3.93"/>
<circle class="d" cx="808.0" cy="530.0" r="60.0"/><circle class="f" cx="808.0" cy="530.0" r="3.93"/>
<circle class="d" cx="218.0" cy="533.0" r="60.0"/><circle class="f" cx="218.0" cy="533.0" r="3.93"/>
<circle class="d" cx="295.0" cy="570.0" r="60.0"/><circle class="f" cx="295.0" cy="570.0" r="3.93"/>
<circle class="d" cx="190.0" cy="608.0" r="60.0"/><circle class="f" cx="190.0" cy="608.0" r="3.93"/>
<circle class="d" cx="272.0" cy="615.0" r="60.0"/><circle class="f" cx="272.0" cy="615.0" r="3.93"/>
<circle class="d" cx="608.0" cy="565.0" r="60.0"/><circle class="f" cx="608.0" cy="565.0" r="3.93"/>
<circle class="d" cx="448.0" cy="627.0" r="60.0"/><circle class="f" cx="448.0" cy="627.0" r="3.93"/>
<circle class="d" cx="543.0" cy="673.0" r="60.0"/><circle class="f" cx="543.0" cy="673.0" r="3.93"/>
<circle class="d" cx="140.0" cy="683.0" r="60.0"/><circle class="f" cx="140.0" cy="683.0" r="3.93"/>
<circle class="d" cx="188.0" cy="685.0" r="60.0"/><circle class="f" cx="188.0" cy="685.0" r="3.93"/>
<circle class="d" cx="350.0" cy="745.0" r="60.0"/><circle class="f" cx="350.0" cy="745.0" r="3.93"/>
<circle class="d" cx="395.0" cy="787.0" r="60.0"/><circle class="f" cx="395.0" cy="787.0" r="3.93"/>
<circle class="d" cx="612.0" cy="738.0" r="60.0"/><circle class="f" cx="612.0" cy="738.0" r="3.93"/>
<circle class="d" cx="718.0" cy="720.0" r="60.0"/><circle class="f" cx="718.0" cy="720.0" r="3.93"/>
<circle class="d" cx="538.0" cy="790.0" r="60.0"/><circle class="f" cx="538.0" cy="790.0" r="3.93"/>
<circle class="d" cx="678.0" cy="828.0" r="60.0"/><circle class="f" cx="678.0" cy="828.0" r="3.93"/>
<circle class="d" cx="885.0" cy="655.0" r="60.0"/><circle class="f" cx="885.0" cy="655.0" r="3.93"/>
<circle class="d" cx="965.0" cy="702.0" r="60.0"/><circle class="f" cx="965.0" cy="702.0" r="3.93"/>
<circle class="d" cx="898.0" cy="760.0" r="60.0"/><circle class="f" cx="898.0" cy="760.0" r="3.93"/>
<path class="t" d="M800,0 L812,160 L835,215 M358,312 L411,286"/>
</g>
<g transform="translate(255.0 370.0) scale(0.148810)">
<path class="k" d="M180,0 L190,80 L350,0 M190,80 L215,190 L240,250 L510,200 L500,60 L440,70 L430,0 M510,200 L580,270"/>
<path class="k" d="M240,250 L262,395 L295,400 L320,495 L545,370 L520,300 L580,270"/>
<path class="k" d="M340,560 L570,420 Q600,425 605,450 L630,550 L672,590 M340,560 L375,690 L490,760 L600,860 L749,644"/>
<path class="k" d="M375,690 L630,550"/>
<path class="h" d="M350,565 L415,530 L440,640 L385,670 Z M420,505 L480,475 L500,590 L445,620 Z M510,450 L560,425 L575,545 L530,570 Z"/>
<path class="t" d="M600,430 A25,25 0 0 1 625,445 M575,480 L610,470 L615,520"/>
<path class="t" d="M30,0 L95,215 L105,370 L105,600 L240,780 M130,0 L150,130 L190,190 L255,410 L290,560 L310,606 M500,30 L520,35 L590,270 L672,450"/>
<path class="h" d="M440,30 h50 v30 h-50z M195,165 h40 v30 h-40z M515,265 h50 v35 h-50z M265,380 h30 v40 h-30z M455,750 h45 v30 h-45z"/>
</g>
<g transform="translate(0.0 0.0) scale(1.000000)">
<path class="t" d="M290.8,460 L306.4,487.1 L319.6,498.6 L377.9,519.6 M300.7,460 L306.8,475.2 L342.6,498.6 L377.9,519.6 M317,495.4 L339,498"/>
<path class="g2" d="M377.9,519.6 L400.5,511.8"/>
</g>
<g transform="translate(420.0 335.0) scale(0.229095)">
<path class="t" d="M165,210 L200,0 M420,330 L480,300 L520,150 L545,0 M575,0 L595,160 M430,555 L520,150 M520,150 L590,160"/>
<path class="g2" d="M590,160 L1567,690"/>
<path class="t" d="M-45,322 L115,470 C125,480 135,480 148,474 L205,435 L108,285 M0,150 L95,235 L130,215 M80,215 L115,195"/>
<path class="g2" d="M-90,773 L0,740 L100,715 L330,690 L445,575"/>
<path class="t" d="M950,0 C960,40 980,70 1000,90 L1150,230 L1484,580 C1500,596 1520,610 1567,620 M960,0 C970,35 990,62 1010,80 L1160,220 L1494,570 C1510,585 1530,598 1567,612"/>
<path class="t" d="M1130,95 L1230,0 M1130,95 L1567,530 M1142,95 L1236,5 M1142,96 L1567,518"/>
<circle class="tr" cx="737.0" cy="145.0" r="55.0"/><circle class="f" cx="737.0" cy="145.0" r="2.18"/><path class="tk" d="M718.9,104.3 L713.6,92.4 M723.3,102.4 L714.6,94.8 L714.5,106.3 M763.2,109.0 L770.9,98.4 M767.1,111.8 L769.3,100.5 L759.3,106.2 M781.3,149.7 L794.3,151.0 M780.8,154.4 L791.7,150.7 L781.8,144.9 M755.1,185.7 L760.4,197.6 M750.7,187.6 L759.4,195.2 L759.5,183.7 M707.8,178.6 L699.2,188.5 M704.2,175.5 L700.9,186.5 L711.4,181.8 M692.7,140.3 L679.7,139.0 M693.2,135.6 L682.3,139.3 L692.2,145.1 "/>
<circle class="tr" cx="960.0" cy="118.0" r="55.0"/><circle class="f" cx="960.0" cy="118.0" r="2.18"/><path class="tk" d="M938.4,79.1 L932.1,67.6 M942.6,76.7 L933.3,69.9 L934.2,81.4 M982.9,79.8 L989.7,68.6 M987.0,82.3 L988.3,70.9 L978.8,77.4 M1004.5,118.8 L1017.6,119.0 M1004.4,123.6 L1015.0,119.0 L1004.6,114.0 M981.6,156.9 L987.9,168.4 M977.4,159.3 L986.7,166.1 L985.8,154.6 M933.8,154.0 L926.1,164.6 M929.9,151.2 L927.7,162.5 L937.7,156.8 M915.5,117.2 L902.4,117.0 M915.6,112.4 L905.0,117.0 L915.4,122.0 "/>
<circle class="tr" cx="1100.0" cy="245.0" r="55.0"/><circle class="f" cx="1100.0" cy="245.0" r="2.18"/><path class="tk" d="M1088.5,202.0 L1085.1,189.3 M1093.1,200.8 L1085.8,191.9 L1083.8,203.2 M1131.5,213.5 L1140.7,204.3 M1134.9,216.9 L1138.9,206.1 L1128.1,210.1 M1143.0,256.5 L1155.7,259.9 M1141.8,261.2 L1153.1,259.2 L1144.2,251.9 M1111.5,288.0 L1114.9,300.7 M1106.9,289.2 L1114.2,298.1 L1116.2,286.8 M1065.9,273.6 L1055.9,282.0 M1062.8,269.9 L1057.9,280.4 L1069.0,277.3 M1057.0,233.5 L1044.3,230.1 M1058.2,228.8 L1046.9,230.8 L1055.8,238.1 "/>
<circle class="tr" cx="1043.0" cy="345.0" r="55.0"/><circle class="f" cx="1043.0" cy="345.0" r="2.18"/><path class="tk" d="M1030.7,302.2 L1027.1,289.6 M1035.3,300.9 L1027.8,292.1 L1026.1,303.5 M1073.9,313.0 L1083.0,303.6 M1077.4,316.3 L1081.2,305.4 L1070.5,309.6 M1086.2,355.8 L1098.9,358.9 M1085.0,360.4 L1096.4,358.3 L1087.4,351.1 M1055.3,387.8 L1058.9,400.4 M1050.7,389.1 L1058.2,397.9 L1059.9,386.5 M1009.4,374.2 L999.5,382.8 M1006.2,370.6 L1001.5,381.1 L1012.5,377.8 M999.8,334.2 L987.1,331.1 M1001.0,329.6 L989.6,331.7 L998.6,338.9 "/>
<circle class="tr" cx="1158.0" cy="410.0" r="55.0"/><circle class="f" cx="1158.0" cy="410.0" r="2.18"/><path class="tk" d="M1145.7,367.2 L1142.1,354.6 M1150.3,365.9 L1142.8,357.1 L1141.1,368.5 M1188.9,378.0 L1198.0,368.6 M1192.4,381.3 L1196.2,370.4 L1185.5,374.6 M1201.2,420.8 L1213.9,423.9 M1200.0,425.4 L1211.4,423.3 L1202.4,416.1 M1170.3,452.8 L1173.9,465.4 M1165.7,454.1 L1173.2,462.9 L1174.9,451.5 M1124.4,439.2 L1114.5,447.8 M1121.2,435.6 L1116.5,446.1 L1127.5,442.8 M1114.8,399.2 L1102.1,396.1 M1116.0,394.6 L1104.6,396.7 L1113.6,403.9 "/>
<circle class="tr" cx="272.0" cy="430.0" r="45.0"/><circle class="f" cx="272.0" cy="430.0" r="2.18"/><path class="tk" d="M258.0,398.5 L252.6,386.5 M262.3,396.5 L253.7,388.9 L253.6,400.4 M292.3,402.1 L300.0,391.5 M296.2,404.9 L298.5,393.6 L288.4,399.2 M306.3,433.6 L319.4,435.0 M305.8,438.4 L316.8,434.7 L306.8,428.8 M286.0,461.5 L291.4,473.5 M281.7,463.5 L290.3,471.1 L290.4,459.6 M249.4,456.1 L240.8,465.9 M245.7,452.9 L242.5,464.0 L253.0,459.2 M237.7,426.4 L224.6,425.0 M238.2,421.6 L227.2,425.3 L237.2,431.2 "/>
<circle class="tr" cx="393.0" cy="445.0" r="45.0"/><circle class="f" cx="393.0" cy="445.0" r="2.18"/><path class="tk" d="M383.5,411.8 L379.9,399.2 M388.1,410.5 L380.6,401.7 L378.9,413.1 M417.0,420.2 L426.1,410.7 M420.4,423.5 L424.3,412.6 L413.5,416.8 M426.5,453.4 L439.2,456.5 M425.3,458.0 L436.7,455.9 L427.7,448.7 M402.5,478.2 L406.1,490.8 M397.9,479.5 L405.4,488.3 L407.1,476.9 M366.9,467.6 L357.1,476.2 M363.8,464.0 L359.0,474.5 L370.1,471.3 M359.5,436.6 L346.8,433.5 M360.7,432.0 L349.3,434.1 L358.3,441.3 "/>
<circle class="tr" cx="185.0" cy="540.0" r="58.0"/><circle class="f" cx="185.0" cy="540.0" r="2.18"/><path class="tk" d="M168.7,495.3 L164.3,483.0 M173.3,493.7 L165.2,485.5 L164.2,497.0 M215.5,503.6 L224.0,493.6 M219.2,506.7 L222.3,495.6 L211.9,500.5 M231.8,548.3 L244.7,550.5 M231.0,553.0 L242.1,550.1 L232.6,543.5 M201.3,584.7 L205.7,597.0 M196.7,586.3 L204.8,594.5 L205.8,583.0 M151.4,573.6 L142.1,582.9 M148.0,570.2 L144.0,581.0 L154.8,577.0 M138.2,531.7 L125.3,529.5 M139.0,527.0 L127.9,529.9 L137.4,536.5 "/>
<circle class="tr" cx="370.0" cy="530.0" r="42.0"/><circle class="f" cx="370.0" cy="530.0" r="2.18"/><path class="tk" d="M364.5,499.0 L362.3,486.1 M369.3,498.1 L362.7,488.6 L359.8,499.8 M394.1,509.7 L404.2,501.3 M397.2,513.4 L402.2,503.0 L391.1,506.1 M399.6,540.8 L411.9,545.3 M398.0,545.3 L409.5,544.4 L401.3,536.3 M375.5,561.0 L377.7,573.9 M370.7,561.9 L377.3,571.4 L380.2,560.2 M344.2,548.1 L333.5,555.6 M341.4,544.1 L335.6,554.1 L346.9,552.0 M340.4,519.2 L328.1,514.7 M342.0,514.7 L330.5,515.6 L338.7,523.7 "/>
<circle class="tr" cx="272.0" cy="598.0" r="38.0"/><circle class="f" cx="272.0" cy="598.0" r="2.18"/><path class="tk" d="M259.1,573.7 L252.9,562.1 M263.3,571.4 L254.2,564.4 L254.8,576.0 M286.6,574.7 L293.5,563.6 M290.7,577.2 L292.1,565.8 L282.5,572.1 M299.5,599.0 L312.6,599.4 M299.3,603.8 L310.0,599.3 L299.7,594.2 M284.9,622.3 L291.1,633.9 M280.7,624.6 L289.8,631.6 L289.2,620.0 M255.4,620.0 L247.6,630.4 M251.6,617.1 L249.1,628.3 L259.3,622.9 M244.5,597.0 L231.4,596.6 M244.7,592.2 L234.0,596.7 L244.3,601.8 "/>
<circle class="tr" cx="348.0" cy="625.0" r="38.0"/><circle class="f" cx="348.0" cy="625.0" r="2.18"/><path class="tk" d="M340.4,598.5 L336.8,586.0 M345.0,597.2 L337.5,588.5 L335.8,599.9 M367.1,605.2 L376.2,595.8 M370.6,608.5 L374.4,597.7 L363.7,601.9 M374.7,631.7 L387.4,634.8 M373.5,636.3 L384.9,634.2 L375.9,627.0 M355.6,651.5 L359.2,664.0 M351.0,652.8 L358.5,661.5 L360.2,650.1 M327.2,643.1 L317.3,651.6 M324.1,639.4 L319.3,649.9 L330.4,646.7 M321.3,618.3 L308.6,615.2 M322.5,613.7 L311.1,615.8 L320.1,623.0 "/>
<circle class="tr" cx="192.0" cy="655.0" r="35.0"/><circle class="f" cx="192.0" cy="655.0" r="2.18"/><path class="tk" d="M186.1,631.2 L182.9,618.5 M190.7,630.0 L183.5,621.0 L181.4,632.4 M209.6,638.0 L219.1,628.9 M213.0,641.4 L217.2,630.7 L206.3,634.5 M215.6,661.8 L228.2,665.4 M214.3,666.4 L225.6,664.6 L216.9,657.1 M197.9,678.8 L201.1,691.5 M193.3,680.0 L200.5,689.0 L202.6,677.6 M172.9,670.4 L162.8,678.7 M169.9,666.7 L164.8,677.0 L176.0,674.2 M168.4,648.2 L155.8,644.6 M169.7,643.6 L158.4,645.4 L167.1,652.9 "/>
<circle class="tr" cx="98.0" cy="650.0" r="55.0"/><circle class="f" cx="98.0" cy="650.0" r="2.18"/><path class="tk" d="M85.7,607.2 L82.1,594.6 M90.3,605.9 L82.8,597.1 L81.1,608.5 M128.9,618.0 L138.0,608.6 M132.4,621.3 L136.2,610.4 L125.5,614.6 M141.2,660.8 L153.9,663.9 M140.0,665.4 L151.4,663.3 L142.4,656.1 M110.3,692.8 L113.9,705.4 M105.7,694.1 L113.2,702.9 L114.9,691.5 M64.4,679.2 L54.5,687.8 M61.2,675.6 L56.5,686.1 L67.5,682.8 M54.8,639.2 L42.1,636.1 M56.0,634.6 L44.6,636.7 L53.6,643.9 "/>
<circle class="tr" cx="290.0" cy="680.0" r="35.0"/><circle class="f" cx="290.0" cy="680.0" r="2.18"/><path class="tk" d="M279.6,657.8 L274.1,645.9 M284.0,655.7 L275.2,648.3 L275.3,659.8 M304.1,659.9 L311.6,649.2 M308.0,662.7 L310.1,651.3 L300.1,657.2 M314.4,682.1 L327.5,683.3 M314.0,686.9 L324.9,683.1 L314.8,677.4 M300.4,702.2 L305.9,714.1 M296.0,704.3 L304.8,711.7 L304.7,700.2 M274.2,698.8 L265.8,708.8 M270.6,695.7 L267.5,706.8 L277.9,701.9 M265.6,677.9 L252.5,676.7 M266.0,673.1 L255.1,676.9 L265.2,682.6 "/>
<circle class="tr" cx="60.0" cy="50.0" r="40.0"/><circle class="f" cx="60.0" cy="50.0" r="2.18"/><path class="tk" d="M47.5,23.2 L42.0,11.4 M51.9,21.2 L43.1,13.7 L43.2,25.3 M76.9,25.8 L84.4,15.1 M80.9,28.6 L82.9,17.2 L73.0,23.1 M89.4,52.6 L102.5,53.7 M89.0,57.4 L99.8,53.5 L89.8,47.8 M72.5,76.8 L78.0,88.6 M68.1,78.8 L76.9,86.3 L76.8,74.7 M41.0,72.6 L32.6,82.6 M37.3,69.5 L34.3,80.6 L44.7,75.7 M30.6,47.4 L17.5,46.3 M31.0,42.6 L20.2,46.5 L30.2,52.2 "/>
<circle class="tr" cx="65.0" cy="130.0" r="35.0"/><circle class="f" cx="65.0" cy="130.0" r="2.18"/><path class="tk" d="M54.6,107.8 L49.1,95.9 M59.0,105.7 L50.2,98.3 L50.3,109.8 M79.1,109.9 L86.6,99.2 M83.0,112.7 L85.1,101.3 L75.1,107.2 M89.4,132.1 L102.5,133.3 M89.0,136.9 L99.9,133.1 L89.8,127.4 M75.4,152.2 L80.9,164.1 M71.0,154.3 L79.8,161.7 L79.7,150.2 M49.2,148.8 L40.8,158.8 M45.6,145.7 L42.5,156.8 L52.9,151.9 M40.6,127.9 L27.5,126.7 M41.0,123.1 L30.1,126.9 L40.2,132.6 "/>
<circle class="tr" cx="60.0" cy="190.0" r="30.0"/><circle class="f" cx="60.0" cy="190.0" r="2.18"/><path class="tk" d="M53.3,171.7 L48.8,159.3 M57.8,170.0 L49.7,161.8 L48.8,173.3 M72.5,175.0 L81.0,165.0 M76.2,178.1 L79.3,167.0 L68.9,172.0 M79.2,193.4 L92.1,195.7 M78.4,198.1 L89.5,195.2 L80.1,188.7 M66.7,208.3 L71.2,220.7 M62.2,210.0 L70.3,218.2 L71.2,206.7 M46.2,203.8 L36.9,213.1 M42.8,200.4 L38.8,211.2 L49.6,207.2 M40.8,186.6 L27.9,184.3 M41.6,181.9 L30.5,184.8 L39.9,191.3 "/>
<circle class="d" cx="870.0" cy="170.0" r="48.0"/><circle class="f" cx="870.0" cy="170.0" r="3.93"/>
<circle class="d" cx="978.0" cy="237.0" r="58.0"/><circle class="f" cx="978.0" cy="237.0" r="3.93"/>
<circle class="d" cx="1198.0" cy="322.0" r="58.0"/><circle class="f" cx="1198.0" cy="322.0" r="3.93"/>
<circle class="d" cx="310.0" cy="495.0" r="60.0"/><circle class="f" cx="310.0" cy="495.0" r="3.93"/>
<circle class="d" cx="240.0" cy="450.0" r="55.0"/><circle class="f" cx="240.0" cy="450.0" r="3.93"/>
<circle class="d" cx="35.0" cy="648.0" r="60.0"/><circle class="f" cx="35.0" cy="648.0" r="3.93"/>
<circle class="d" cx="68.0" cy="760.0" r="60.0"/><circle class="f" cx="68.0" cy="760.0" r="3.93"/>
<circle class="d" cx="275.0" cy="710.0" r="60.0"/><circle class="f" cx="275.0" cy="710.0" r="3.93"/>
<circle class="d" cx="460.0" cy="686.0" r="58.0"/><circle class="f" cx="460.0" cy="686.0" r="3.93"/>
<circle class="d" cx="528.0" cy="710.0" r="60.0"/><circle class="f" cx="528.0" cy="710.0" r="3.93"/>
<circle class="d" cx="648.0" cy="617.0" r="60.0"/><circle class="f" cx="648.0" cy="617.0" r="3.93"/>
<circle class="d" cx="678.0" cy="747.0" r="60.0"/><circle class="f" cx="678.0" cy="747.0" r="3.93"/>
<circle class="d" cx="795.0" cy="660.0" r="60.0"/><circle class="f" cx="795.0" cy="660.0" r="3.93"/>
<circle class="d" cx="802.0" cy="513.0" r="60.0"/><circle class="f" cx="802.0" cy="513.0" r="3.93"/>
<circle class="d" cx="875.0" cy="550.0" r="60.0"/><circle class="f" cx="875.0" cy="550.0" r="3.93"/>
</g>
<g transform="translate(450.0 370.0) scale(0.148810)">
<path class="k" d="M215,0 L190,95 L445,80 L460,0 M190,95 L185,155 L130,160 L135,265 L410,340 L445,195 L420,185 L445,80"/>
<path class="k" d="M150,0 L110,100 L130,265 M480,0 L500,60 L470,150 L440,200 L410,340"/>
<path class="m" d="M410,340 L540,250"/>
<path class="h" d="M130,155 h50 v35 h-50z M420,170 h40 v40 h-40z M160,0 h55 v20 h-55z M455,0 h35 v20 h-35z"/>
<path class="t" d="M60,0 L55,90 L120,260"/>
</g>
<g transform="translate(779.0 315.0) scale(0.229095)">
<path class="m" d="M165,135 L375,340 L645,365"/>
<path class="g2" d="M808,30 L645,365 L600,470 L520,660 L70,860 L15,830 L40,790"/>
<path class="t" d="M805,25 L740,0 M605,470 L820,590 M812,30 L910,60"/>
<path class="t" d="M645,368 L440,435 L405,470 L200,560 C150,590 100,680 0,700 M643,376 L442,443 L410,478 L205,568 C155,598 105,688 0,708"/>
<path class="t" d="M0,95 L260,360 L0,620 M0,106 L250,360 L0,612"/>
<path class="t" d="M380,595 L440,480 L495,500 L510,458 L565,480 L490,655 Z M515,475 L545,485 L538,502 L510,492 Z"/>
<path class="t" d="M720,525 L850,50 M830,35 L850,40 L830,120 M911,61 L821,593"/>
<path class="t" d="M929,8 L847,580 L1195,630 L1270,0"/>
<path class="k" d="M1060,55 L1255,78 L1215,385 L1165,605 L895,575 L890,365 L1025,380 L1020,330 M1060,55 L1045,255 L1025,330 M1060,255 L1230,270 M1025,365 L1215,385"/>
<path class="k" d="M920,30 L1010,40 L1000,330 L910,330 Z M935,0 L920,30 M1010,40 L1060,0"/>
<path class="m" d="M918,95 L1005,100 M914,150 L1003,155 M912,205 L1002,210 M910,265 L1000,270"/>
<path class="t" d="M995,120 A15,15 0 0 1 1005,105 M990,180 A15,15 0 0 1 1000,160 M988,235 A15,15 0 0 1 998,215 M985,295 A15,15 0 0 1 995,275 M1000,380 A25,25 0 0 1 1025,350"/>
<path class="h" d="M1040,215 h25 v50 h-25z"/>
<path class="t" d="M1080,50 L1110,20 L1165,10 L1160,40 M1090,60 L1118,30 L1150,25 M1195,0 L1190,60"/>
<path class="m" d="M1355,0 L1325,680 M1365,0 L1335,680"/>
<path class="t" d="M1360,75 L1490,80 L1460,625 M1358,135 L1485,140 M1355,195 L1482,200 M1353,255 L1480,262 M1350,320 L1475,325 M1348,380 L1472,385 M1345,440 L1470,445 M1342,500 L1467,505 M1340,560 L1462,565 M1338,620 L1460,625"/>
<path class="t" d="M1280,680 L1450,690 L1445,760 L1275,750 Z M1450,760 L1567,770"/>
<path class="t" d="M895,565 L900,580 L920,580 M1120,600 L1125,610 L1150,610"/>
<circle class="tr" cx="1340.0" cy="190.0" r="70.0"/><circle class="f" cx="1340.0" cy="190.0" r="2.18"/><path class="tk" d="M1334.8,130.7 L1333.7,117.7 M1339.6,130.3 L1333.9,120.3 L1330.0,131.1 M1388.8,155.9 L1399.5,148.3 M1391.5,159.8 L1397.3,149.8 L1386.0,151.9 M1393.9,215.2 L1405.8,220.7 M1391.9,219.5 L1403.4,219.6 L1396.0,210.8 M1345.2,249.3 L1346.3,262.3 M1340.4,249.7 L1346.1,259.7 L1350.0,248.9 M1288.5,219.8 L1277.1,226.3 M1286.0,215.6 L1279.4,225.0 L1290.9,223.9 M1286.1,164.8 L1274.2,159.3 M1288.1,160.5 L1276.6,160.4 L1284.0,169.2 "/>
<circle class="tr" cx="1330.0" cy="375.0" r="70.0"/><circle class="f" cx="1330.0" cy="375.0" r="2.18"/><path class="tk" d="M1314.6,317.5 L1311.2,304.9 M1319.2,316.3 L1311.9,307.4 L1310.0,318.7 M1372.1,332.9 L1381.3,323.7 M1375.5,336.3 L1379.5,325.5 L1368.7,329.5 M1387.5,390.4 L1400.1,393.8 M1386.3,395.0 L1397.6,393.1 L1388.7,385.8 M1345.4,432.5 L1348.8,445.1 M1340.8,433.7 L1348.1,442.6 L1350.0,431.3 M1284.4,413.3 L1274.4,421.7 M1281.3,409.6 L1276.4,420.0 L1287.5,416.9 M1272.5,359.6 L1259.9,356.2 M1273.7,355.0 L1262.4,356.9 L1271.3,364.2 "/>
<circle class="tr" cx="90.0" cy="790.0" r="55.0"/><circle class="f" cx="90.0" cy="790.0" r="2.18"/><path class="tk" d="M86.1,745.6 L85.0,732.6 M90.9,745.2 L85.2,735.2 L81.3,746.1 M126.5,764.5 L137.2,757.0 M129.2,768.4 L135.1,758.5 L123.7,760.5 M130.4,808.8 L142.2,814.4 M128.3,813.2 L139.8,813.2 L132.4,804.5 M93.9,834.4 L95.0,847.4 M89.1,834.8 L94.8,844.8 L98.7,833.9 M51.4,812.3 L40.1,818.8 M49.0,808.1 L42.4,817.5 L53.8,816.4 M49.6,771.2 L37.8,765.6 M51.7,766.8 L40.2,766.8 L47.6,775.5 "/>
<circle class="tr" cx="245.0" cy="725.0" r="55.0"/><circle class="f" cx="245.0" cy="725.0" r="2.18"/><path class="tk" d="M229.8,683.2 L225.3,670.9 M234.3,681.5 L226.2,673.3 L225.3,684.8 M273.6,690.9 L282.0,680.9 M277.3,694.0 L280.4,682.9 L269.9,687.8 M288.8,732.7 L301.7,735.0 M288.0,737.5 L299.2,734.6 L289.7,728.0 M260.2,766.8 L264.7,779.1 M255.7,768.5 L263.8,776.7 L264.7,765.2 M213.5,756.5 L204.3,765.7 M210.1,753.1 L206.1,763.9 L216.9,759.9 M201.2,717.3 L188.3,715.0 M202.0,712.5 L190.8,715.4 L200.3,722.0 "/>
<circle class="tr" cx="370.0" cy="660.0" r="55.0"/><circle class="f" cx="370.0" cy="660.0" r="2.18"/><path class="tk" d="M351.2,619.6 L345.6,607.8 M355.5,617.6 L346.8,610.2 L346.8,621.7 M395.5,623.5 L403.0,612.8 M399.5,626.3 L401.5,614.9 L391.6,620.8 M414.4,663.9 L427.4,665.0 M413.9,668.7 L424.8,664.8 L414.8,659.1 M388.8,700.4 L394.4,712.2 M384.5,702.4 L393.2,709.8 L393.2,698.3 M341.4,694.1 L333.0,704.1 M337.7,691.0 L334.6,702.1 L345.1,697.2 M325.6,656.1 L312.6,655.0 M326.1,651.3 L315.2,655.2 L325.2,660.9 "/>
<circle class="d" cx="830.0" cy="700.0" r="60.0"/><circle class="f" cx="830.0" cy="700.0" r="3.93"/>
<circle class="d" cx="920.0" cy="730.0" r="55.0"/><circle class="f" cx="920.0" cy="730.0" r="3.93"/>
<circle class="d" cx="940.0" cy="770.0" r="60.0"/><circle class="f" cx="940.0" cy="770.0" r="3.93"/>
<circle class="d" cx="720.0" cy="780.0" r="60.0"/><circle class="f" cx="720.0" cy="780.0" r="3.93"/>
<circle class="d" cx="760.0" cy="810.0" r="60.0"/><circle class="f" cx="760.0" cy="810.0" r="3.93"/>
<circle class="d" cx="910.0" cy="870.0" r="55.0"/><circle class="f" cx="910.0" cy="870.0" r="3.93"/>
<circle class="d" cx="1085.0" cy="860.0" r="60.0"/><circle class="f" cx="1085.0" cy="860.0" r="3.93"/>
<circle class="d" cx="1330.0" cy="805.0" r="60.0"/><circle class="f" cx="1330.0" cy="805.0" r="3.93"/>
<circle class="d" cx="1460.0" cy="850.0" r="60.0"/><circle class="f" cx="1460.0" cy="850.0" r="3.93"/>
<path class="g2" d="M-2,776 L40,792"/>
</g>
<g transform="translate(1040.0 300.0) scale(0.274914)">
<path class="t" d="M410,130 L372,695 L300,690"/>
</g>
<g transform="translate(290.0 290.0) scale(0.128287)">
</g>
<g transform="translate(330.0 235.0) scale(0.178571)">
<path class="k" d="M160,175 L360,155 L412,290 L402,390 L470,560 L448,712 L292,740 L215,595 L152,325 Z"/>
<path class="k" d="M155,270 L250,265 L380,212 M250,170 L255,265"/>
<path class="t" d="M185,265 L195,250 L205,265 L195,280 Z M300,240 L310,225 L320,240 L310,255 Z M235,180 L248,180 L248,210 L235,210 Z M230,360 L240,375"/>
<path class="k" d="M185,325 L235,345 L275,400 L315,530 L300,565 L245,592 L228,588 L185,325"/>
<path class="h" d="M205,385 L222,385 L242,480 L225,480 Z M255,400 L272,400 L285,470 L268,470 Z M250,540 L300,530 L305,560 L258,575 Z"/>
<path class="m" d="M290,430 L355,410"/>
<path class="m" d="M150,140 L320,45 L555,300 L560,345 L492,755"/>
<path class="t" d="M170,152 L320,62 L370,95 L500,290 L510,335 L473,720 L468,760 M105,125 L155,125 M110,130 L300,0"/>
<path class="t" d="M555,380 L610,380 L625,873 M290,742 L470,760 L505,795"/>
<path class="t" d="M100,125 L60,230 L55,330 L95,420 L185,640 L210,800 M150,140 L120,290 L140,410 L200,580 L245,700 L290,790"/>
<path class="t" d="M40,340 L95,340"/>
</g>

<g>
<line x1="1444" y1="65.5" x2="1517" y2="65.5" stroke="#b0b0b0" stroke-width="1"/>
<line x1="1485.5" y1="33" x2="1485.5" y2="97" stroke="#b0b0b0" stroke-width="1"/>
<circle cx="1485.2" cy="65" r="24" fill="none" stroke="#000" stroke-width="2.5"/>
<rect x="1455.3" y="63" width="30" height="4" fill="#000"/>
<path d="M1431,61 L1443,61 M1431,69 L1443,69" stroke="#666" stroke-width=".8"/>
<path d="M1438.5,61 L1442.8,61 L1435.5,69 L1431.2,69 Z" fill="#000"/>
</g>

<circle cx="1129.5" cy="400.9" r="9" fill="#c9442a"/><path d="M1130.1,395.0 L1130.1,406.8 M1130.4,395.2 L1127.3,397.0" stroke="#fff" stroke-width="1.9" fill="none"/>
<circle cx="1022.5" cy="419.2" r="9" fill="#c9442a"/><text x="1022.5" y="425.0" font-size="16" fill="#fff" text-anchor="middle">2</text>
<circle cx="990.5" cy="238.5" r="9" fill="#c9442a"/><text x="990.5" y="244.3" font-size="16" fill="#fff" text-anchor="middle">3</text>
<circle cx="891.6" cy="239.1" r="9" fill="#c9442a"/><text x="891.6" y="244.9" font-size="16" fill="#fff" text-anchor="middle">4</text>
<circle cx="812.7" cy="211.7" r="9" fill="#c9442a"/><text x="812.7" y="217.5" font-size="16" fill="#fff" text-anchor="middle">5</text>
<circle cx="625.7" cy="168.0" r="9" fill="#c9442a"/><text x="625.7" y="173.8" font-size="16" fill="#fff" text-anchor="middle">6</text>
<circle cx="518.1" cy="169.8" r="9" fill="#c9442a"/><text x="518.1" y="175.6" font-size="16" fill="#fff" text-anchor="middle">7</text>
<circle cx="767.9" cy="247.7" r="9" fill="#c9442a"/><text x="767.9" y="253.5" font-size="16" fill="#fff" text-anchor="middle">8</text>
<circle cx="767.8" cy="388.1" r="9" fill="#c9442a"/><text x="767.8" y="393.9" font-size="16" fill="#fff" text-anchor="middle">9</text>
<circle cx="382.3" cy="213.8" r="9" fill="#c9442a"/><path d="M377.5,207.9 L377.5,219.7 M377.8,208.1 L374.7,209.9" stroke="#fff" stroke-width="1.9" fill="none"/><text x="385.6" y="219.6" font-size="15.5" fill="#fff" text-anchor="middle">0</text>
<circle cx="491.0" cy="277.1" r="9" fill="#c9442a"/><path d="M487.3,271.2 L487.3,283.0 M487.6,271.4 L484.5,273.2" stroke="#fff" stroke-width="1.9" fill="none"/><path d="M495.9,271.2 L495.9,283.0 M496.2,271.4 L493.1,273.2" stroke="#fff" stroke-width="1.9" fill="none"/>
<circle cx="304.5" cy="395.5" r="9" fill="#c9442a"/><path d="M300.8,389.6 L300.8,401.4 M301.1,389.8 L298.0,391.6" stroke="#fff" stroke-width="1.9" fill="none"/><path d="M309.4,389.6 L309.4,401.4 M309.7,389.8 L306.6,391.6" stroke="#fff" stroke-width="1.9" fill="none"/>
<circle cx="1238.3" cy="526.6" r="8.9" fill="#c9442a"/><path d="M1238.9,520.7 L1238.9,532.5 M1239.2,520.9 L1236.1,522.7" stroke="#fff" stroke-width="1.9" fill="none"/>
<text x="1262.6" y="534.9" font-size="15" fill="#1a1a1a" textLength="89.8" lengthAdjust="spacing">Parqueadero</text>
<circle cx="1238.3" cy="553.5" r="8.9" fill="#c9442a"/><text x="1238.3" y="559.3" font-size="16" fill="#fff" text-anchor="middle">2</text>
<text x="1262.6" y="561.5" font-size="15" fill="#1a1a1a" textLength="105.69999999999999" lengthAdjust="spacing">Escuela de Música</text>
<circle cx="1238.3" cy="579.7" r="8.9" fill="#c9442a"/><text x="1238.3" y="585.5" font-size="16" fill="#fff" text-anchor="middle">3</text>
<text x="1262.6" y="587.5" font-size="15" fill="#1a1a1a" textLength="156.2" lengthAdjust="spacing">Hall y acceso principal</text>
<circle cx="1238.3" cy="605.9" r="8.9" fill="#c9442a"/><text x="1238.3" y="611.7" font-size="16" fill="#fff" text-anchor="middle">4</text>
<text x="1262.6" y="613.2" font-size="15" fill="#1a1a1a" textLength="137.0" lengthAdjust="spacing">Enfermería y tienda</text>
<circle cx="1238.3" cy="632.8" r="8.9" fill="#c9442a"/><text x="1238.3" y="638.6" font-size="16" fill="#fff" text-anchor="middle">5</text>
<text x="1262.6" y="640.3" font-size="15" fill="#1a1a1a" textLength="158.6" lengthAdjust="spacing">Sala de computo y Oficinas</text>
<circle cx="1238.3" cy="658.9" r="8.9" fill="#c9442a"/><text x="1238.3" y="664.7" font-size="16" fill="#fff" text-anchor="middle">6</text>
<text x="1262.6" y="666.9" font-size="15" fill="#1a1a1a" textLength="128.79999999999998" lengthAdjust="spacing">Cocina y Comedor</text>
<circle cx="1238.3" cy="684.7" r="8.9" fill="#c9442a"/><text x="1238.3" y="690.5" font-size="16" fill="#fff" text-anchor="middle">7</text>
<text x="1262.6" y="693.5" font-size="15" fill="#1a1a1a" textLength="72.6" lengthAdjust="spacing">Preescolar</text>
<circle cx="1238.3" cy="713.1" r="8.9" fill="#c9442a"/><text x="1238.3" y="718.9" font-size="16" fill="#fff" text-anchor="middle">8</text>
<text x="1262.6" y="720.2" font-size="15" fill="#1a1a1a" textLength="171.5" lengthAdjust="spacing">Patio de juegos cubierto</text>
<circle cx="1238.3" cy="738.9" r="8.9" fill="#c9442a"/><text x="1238.3" y="744.7" font-size="16" fill="#fff" text-anchor="middle">9</text>
<text x="1262.6" y="746.0" font-size="15" fill="#1a1a1a" textLength="105.69999999999999" lengthAdjust="spacing">Área recreativa</text>
<circle cx="1238.3" cy="767.3" r="8.9" fill="#c9442a"/><path d="M1233.5,761.4 L1233.5,773.2 M1233.8,761.6 L1230.7,763.4" stroke="#fff" stroke-width="1.9" fill="none"/><text x="1241.6" y="773.1" font-size="15.5" fill="#fff" text-anchor="middle">0</text>
<text x="1262.6" y="772.6" font-size="15" fill="#1a1a1a" textLength="250.4" lengthAdjust="spacing">Jardin infantil restaurante y oficinas</text>
<circle cx="1238.3" cy="794.3" r="8.9" fill="#c9442a"/><path d="M1234.6,788.4 L1234.6,800.2 M1234.9,788.6 L1231.8,790.4" stroke="#fff" stroke-width="1.9" fill="none"/><path d="M1243.2,788.4 L1243.2,800.2 M1243.5,788.6 L1240.4,790.4" stroke="#fff" stroke-width="1.9" fill="none"/>
<text x="1262.6" y="798.4" font-size="15" fill="#1a1a1a" textLength="139.0" lengthAdjust="spacing">Salas de interacción</text>
</svg></body></html>
